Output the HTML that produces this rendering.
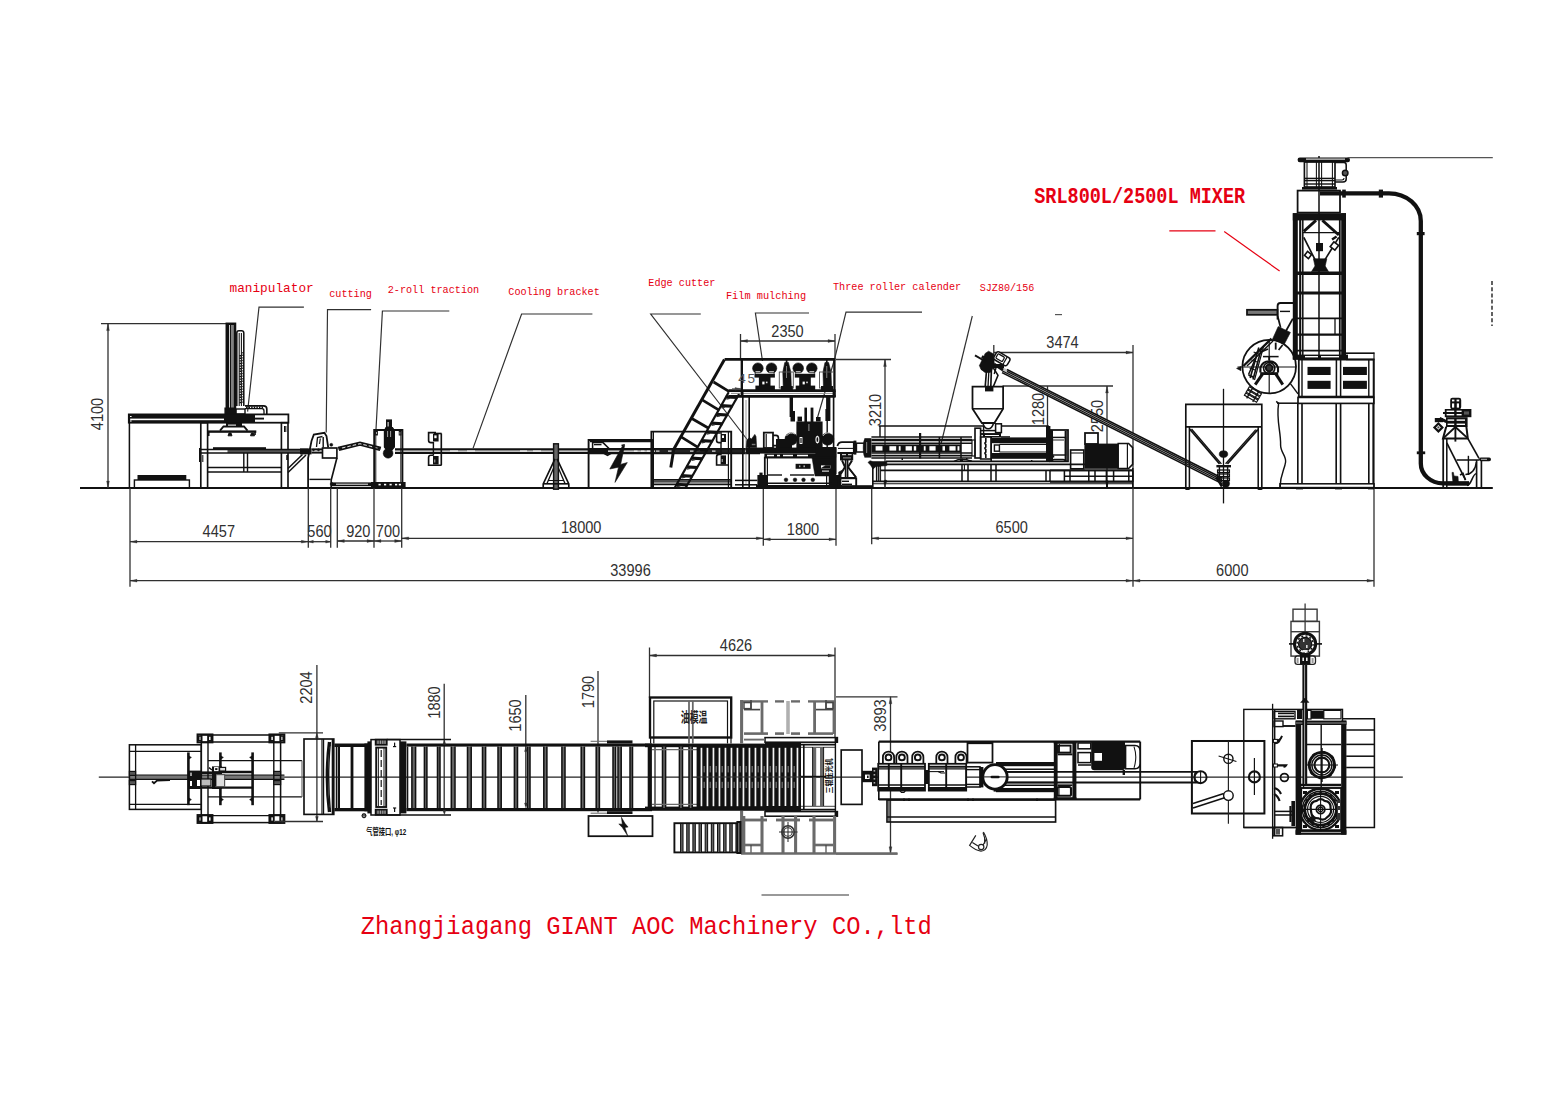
<!DOCTYPE html>
<html><head><meta charset="utf-8"><title>Production line layout</title>
<style>
html,body{margin:0;padding:0;background:#fff;}
body{width:1559px;height:1103px;overflow:hidden;}
svg{display:block;}
text.d{font-family:"Liberation Sans",sans-serif;}
text.m{font-family:"Liberation Mono","Noto Sans CJK SC",monospace;}
text.s{font-family:"Liberation Serif","Noto Serif CJK SC",serif;}
text.c{font-family:"Liberation Sans","Noto Sans CJK SC",sans-serif;}
</style></head><body>
<svg width="1559" height="1103" viewBox="0 0 1559 1103" stroke-linecap="butt" stroke-linejoin="miter">
<rect x="0" y="0" width="1559" height="1103" fill="#fff"/>
<text class="m" x="0" y="0" font-size="12.75" fill="#e60012" font-weight="normal" transform="translate(229.5 291.6) scale(1 1)" textLength="84.2" lengthAdjust="spacing">manipulator</text>
<text class="m" x="0" y="0" font-size="10.17" fill="#e60012" font-weight="normal" transform="translate(329.2 297.3) scale(1 1)" textLength="42.7" lengthAdjust="spacing">cutting</text>
<text class="m" x="0" y="0" font-size="10.17" fill="#e60012" font-weight="normal" transform="translate(387.7 292.5) scale(1 1)" textLength="91.5" lengthAdjust="spacing">2-roll traction</text>
<text class="m" x="0" y="0" font-size="10.17" fill="#e60012" font-weight="normal" transform="translate(508.3 295.4) scale(1 1)" textLength="91.5" lengthAdjust="spacing">Cooling bracket</text>
<text class="m" x="0" y="0" font-size="10.17" fill="#e60012" font-weight="normal" transform="translate(648.3 286) scale(1 1)" textLength="67.1" lengthAdjust="spacing">Edge cutter</text>
<text class="m" x="0" y="0" font-size="10.28" fill="#e60012" font-weight="normal" transform="translate(725.9 299) scale(1 1)" textLength="80.2" lengthAdjust="spacing">Film mulching</text>
<text class="m" x="0" y="0" font-size="10.17" fill="#e60012" font-weight="normal" transform="translate(833 290) scale(1 1)" textLength="128.1" lengthAdjust="spacing">Three roller calender</text>
<text class="m" x="0" y="0" font-size="10.12" fill="#e60012" font-weight="normal" transform="translate(979.7 291.3) scale(1 1)" textLength="54.6" lengthAdjust="spacing">SJZ80/156</text>
<text class="m" x="0" y="0" font-size="18.50" fill="#e60012" font-weight="bold" transform="translate(1034.25 202.7) scale(1 1.2)" textLength="210.9" lengthAdjust="spacing">SRL800L/2500L MIXER</text>
<text class="m" x="0" y="0" font-size="23.80" fill="#e60012" font-weight="normal" transform="translate(360.7 933.7) scale(1 1.06)" textLength="571.2" lengthAdjust="spacing">Zhangjiagang GIANT AOC Machinery CO.,ltd</text>
<line x1="761.5" y1="895" x2="849" y2="895" stroke="#777" stroke-width="1.65" />
<line x1="80" y1="488" x2="1492.8" y2="488" stroke="#111" stroke-width="1.89" />
<line x1="130" y1="488" x2="130" y2="586.7" stroke="#303030" stroke-width="1.3" />
<line x1="308.3" y1="488" x2="308.3" y2="547.7" stroke="#303030" stroke-width="1.3" />
<line x1="330.7" y1="488" x2="330.7" y2="547.7" stroke="#303030" stroke-width="1.3" />
<line x1="337.3" y1="488" x2="337.3" y2="547.7" stroke="#303030" stroke-width="1.3" />
<line x1="374" y1="488" x2="374" y2="547.7" stroke="#303030" stroke-width="1.3" />
<line x1="401.7" y1="488" x2="401.7" y2="547.7" stroke="#303030" stroke-width="1.3" />
<line x1="763.3" y1="488" x2="763.3" y2="545.7" stroke="#303030" stroke-width="1.3" />
<line x1="836" y1="488" x2="836" y2="545.7" stroke="#303030" stroke-width="1.3" />
<line x1="871.7" y1="488" x2="871.7" y2="544.3" stroke="#303030" stroke-width="1.3" />
<line x1="1133" y1="345" x2="1133" y2="586.7" stroke="#303030" stroke-width="1.3" />
<line x1="1374" y1="352.5" x2="1374" y2="586.7" stroke="#303030" stroke-width="1.3" />
<line x1="130" y1="541.7" x2="308.3" y2="541.7" stroke="#303030" stroke-width="1.3" />
<path d="M130 541.7 L137 540.3 L137 543.1 Z" fill="#303030" stroke="#303030" stroke-width="0.3" />
<path d="M308.3 541.7 L301.3 540.3 L301.3 543.1 Z" fill="#303030" stroke="#303030" stroke-width="0.3" />
<line x1="308.3" y1="541.7" x2="330.7" y2="541.7" stroke="#303030" stroke-width="1.3" />
<path d="M330.7 541.7 L325.7 540.3 L325.7 543.1 Z" fill="#303030" stroke="#303030" stroke-width="0.3" />
<path d="M308.3 541.7 L313.3 540.3 L313.3 543.1 Z" fill="#303030" stroke="#303030" stroke-width="0.3" />
<line x1="337.3" y1="541" x2="374" y2="541" stroke="#303030" stroke-width="1.3" />
<path d="M337.3 541 L344.3 539.6 L344.3 542.4 Z" fill="#303030" stroke="#303030" stroke-width="0.3" />
<path d="M374 541 L367 539.6 L367 542.4 Z" fill="#303030" stroke="#303030" stroke-width="0.3" />
<line x1="374" y1="541" x2="401.7" y2="541" stroke="#303030" stroke-width="1.3" />
<path d="M374 541 L381 539.6 L381 542.4 Z" fill="#303030" stroke="#303030" stroke-width="0.3" />
<path d="M401.7 541 L394.7 539.6 L394.7 542.4 Z" fill="#303030" stroke="#303030" stroke-width="0.3" />
<line x1="401.7" y1="538.3" x2="763.3" y2="538.3" stroke="#303030" stroke-width="1.3" />
<path d="M401.7 538.3 L408.7 536.9 L408.7 539.7 Z" fill="#303030" stroke="#303030" stroke-width="0.3" />
<path d="M763.3 538.3 L756.3 536.9 L756.3 539.7 Z" fill="#303030" stroke="#303030" stroke-width="0.3" />
<line x1="763.3" y1="539.3" x2="836" y2="539.3" stroke="#303030" stroke-width="1.3" />
<path d="M763.3 539.3 L770.3 537.9 L770.3 540.7 Z" fill="#303030" stroke="#303030" stroke-width="0.3" />
<path d="M836 539.3 L829 537.9 L829 540.7 Z" fill="#303030" stroke="#303030" stroke-width="0.3" />
<line x1="871.7" y1="538.3" x2="1133" y2="538.3" stroke="#303030" stroke-width="1.3" />
<path d="M871.7 538.3 L878.7 536.9 L878.7 539.7 Z" fill="#303030" stroke="#303030" stroke-width="0.3" />
<path d="M1133 538.3 L1126 536.9 L1126 539.7 Z" fill="#303030" stroke="#303030" stroke-width="0.3" />
<line x1="130" y1="580.7" x2="1133" y2="580.7" stroke="#303030" stroke-width="1.3" />
<path d="M130 580.7 L137 579.3 L137 582.1 Z" fill="#303030" stroke="#303030" stroke-width="0.3" />
<path d="M1133 580.7 L1126 579.3 L1126 582.1 Z" fill="#303030" stroke="#303030" stroke-width="0.3" />
<line x1="1133" y1="580.7" x2="1374" y2="580.7" stroke="#303030" stroke-width="1.3" />
<path d="M1133 580.7 L1140 579.3 L1140 582.1 Z" fill="#303030" stroke="#303030" stroke-width="0.3" />
<path d="M1374 580.7 L1367 579.3 L1367 582.1 Z" fill="#303030" stroke="#303030" stroke-width="0.3" />
<text class="d" x="202.6" y="536.8" font-size="17" fill="#303030" textLength="32.4" lengthAdjust="spacingAndGlyphs">4457</text>
<text class="d" x="307.35" y="536.8" font-size="17" fill="#303030" textLength="24.3" lengthAdjust="spacingAndGlyphs">560</text>
<text class="d" x="346.15" y="536.8" font-size="17" fill="#303030" textLength="24.3" lengthAdjust="spacingAndGlyphs">920</text>
<text class="d" x="375.85" y="536.8" font-size="17" fill="#303030" textLength="24.3" lengthAdjust="spacingAndGlyphs">700</text>
<text class="d" x="560.95" y="533.3" font-size="17" fill="#303030" textLength="40.5" lengthAdjust="spacingAndGlyphs">18000</text>
<text class="d" x="786.8" y="535" font-size="17" fill="#303030" textLength="32.4" lengthAdjust="spacingAndGlyphs">1800</text>
<text class="d" x="995.5" y="533.3" font-size="17" fill="#303030" textLength="32.4" lengthAdjust="spacingAndGlyphs">6500</text>
<text class="d" x="610.25" y="575.7" font-size="17" fill="#303030" textLength="40.5" lengthAdjust="spacingAndGlyphs">33996</text>
<text class="d" x="1216.1" y="576" font-size="17" fill="#303030" textLength="32.4" lengthAdjust="spacingAndGlyphs">6000</text>
<line x1="101" y1="323.6" x2="226.5" y2="323.6" stroke="#303030" stroke-width="1.3" />
<line x1="108" y1="323.6" x2="108" y2="488" stroke="#303030" stroke-width="1.3" />
<path d="M108 323.6 L106.6 330.6 L109.4 330.6 Z" fill="#303030" stroke="#303030" stroke-width="0.3" />
<path d="M108 488 L106.6 481 L109.4 481 Z" fill="#303030" stroke="#303030" stroke-width="0.3" />
<text class="d" x="-16.2" y="0" font-size="17" fill="#303030" textLength="32.4" lengthAdjust="spacingAndGlyphs" transform="translate(103 414) rotate(-90)">4100</text>
<line x1="740.5" y1="334" x2="740.5" y2="359.5" stroke="#303030" stroke-width="1.3" />
<line x1="835" y1="334" x2="835" y2="359.5" stroke="#303030" stroke-width="1.3" />
<line x1="740.5" y1="341" x2="835" y2="341" stroke="#303030" stroke-width="1.3" />
<path d="M740.5 341 L747.5 339.6 L747.5 342.4 Z" fill="#303030" stroke="#303030" stroke-width="0.3" />
<path d="M835 341 L828 339.6 L828 342.4 Z" fill="#303030" stroke="#303030" stroke-width="0.3" />
<text class="d" x="771.3" y="336.5" font-size="17" fill="#303030" textLength="32.4" lengthAdjust="spacingAndGlyphs">2350</text>
<line x1="836" y1="359.5" x2="891" y2="359.5" stroke="#303030" stroke-width="1.3" />
<line x1="885" y1="359.5" x2="885" y2="488" stroke="#303030" stroke-width="1.3" />
<path d="M885 359.5 L883.6 366.5 L886.4 366.5 Z" fill="#303030" stroke="#303030" stroke-width="0.3" />
<path d="M885 488 L883.6 481 L886.4 481 Z" fill="#303030" stroke="#303030" stroke-width="0.3" />
<text class="d" x="-16.2" y="0" font-size="17" fill="#303030" textLength="32.4" lengthAdjust="spacingAndGlyphs" transform="translate(880.5 410) rotate(-90)">3210</text>
<line x1="993.8" y1="345" x2="993.8" y2="356" stroke="#303030" stroke-width="1.3" />
<line x1="993.8" y1="352.5" x2="1133" y2="352.5" stroke="#303030" stroke-width="1.3" />
<path d="M1133 352.5 L1126 351.1 L1126 353.9 Z" fill="#303030" stroke="#303030" stroke-width="0.3" />
<text class="d" x="1046.3" y="347.5" font-size="17" fill="#303030" textLength="32.4" lengthAdjust="spacingAndGlyphs">3474</text>
<line x1="1002.5" y1="386" x2="1113" y2="386" stroke="#303030" stroke-width="1.3" />
<line x1="1047.5" y1="386" x2="1047.5" y2="427.5" stroke="#303030" stroke-width="1.3" />
<text class="d" x="-16.2" y="0" font-size="17" fill="#303030" textLength="32.4" lengthAdjust="spacingAndGlyphs" transform="translate(1044 409) rotate(-90)">1280</text>
<line x1="1107" y1="386" x2="1107" y2="488" stroke="#303030" stroke-width="1.3" />
<path d="M1107 386 L1105.6 393 L1108.4 393 Z" fill="#303030" stroke="#303030" stroke-width="0.3" />
<path d="M1107 488 L1105.6 481 L1108.4 481 Z" fill="#303030" stroke="#303030" stroke-width="0.3" />
<text class="d" x="-16.2" y="0" font-size="17" fill="#303030" textLength="32.4" lengthAdjust="spacingAndGlyphs" transform="translate(1103 416) rotate(-90)">2550</text>
<line x1="316.9" y1="665" x2="316.9" y2="821.5" stroke="#303030" stroke-width="1.3" />
<path d="M316.9 732.8 L315.5 737.8 L318.3 737.8 Z" fill="#303030" stroke="#303030" stroke-width="0.3" />
<path d="M316.9 821.5 L315.5 816.5 L318.3 816.5 Z" fill="#303030" stroke="#303030" stroke-width="0.3" />
<text class="d" x="-16.2" y="0" font-size="17" fill="#303030" textLength="32.4" lengthAdjust="spacingAndGlyphs" transform="translate(312 687.5) rotate(-90)">2204</text>
<line x1="444.2" y1="683.8" x2="444.2" y2="812.5" stroke="#303030" stroke-width="1.3" />
<text class="d" x="-16.2" y="0" font-size="17" fill="#303030" textLength="32.4" lengthAdjust="spacingAndGlyphs" transform="translate(439.5 702.5) rotate(-90)">1880</text>
<line x1="525.8" y1="695" x2="525.8" y2="806" stroke="#303030" stroke-width="1.3" />
<text class="d" x="-16.2" y="0" font-size="17" fill="#303030" textLength="32.4" lengthAdjust="spacingAndGlyphs" transform="translate(521 715.5) rotate(-90)">1650</text>
<line x1="598" y1="671" x2="598" y2="812.5" stroke="#303030" stroke-width="1.3" />
<text class="d" x="-16.2" y="0" font-size="17" fill="#303030" textLength="32.4" lengthAdjust="spacingAndGlyphs" transform="translate(593.5 692) rotate(-90)">1790</text>
<line x1="649.5" y1="647.5" x2="649.5" y2="698" stroke="#303030" stroke-width="1.3" />
<line x1="835" y1="647.5" x2="835" y2="742" stroke="#303030" stroke-width="1.3" />
<line x1="649.5" y1="655.5" x2="835" y2="655.5" stroke="#303030" stroke-width="1.3" />
<path d="M649.5 655.5 L656.5 654.1 L656.5 656.9 Z" fill="#303030" stroke="#303030" stroke-width="0.3" />
<path d="M835 655.5 L828 654.1 L828 656.9 Z" fill="#303030" stroke="#303030" stroke-width="0.3" />
<text class="d" x="719.8" y="651" font-size="17" fill="#303030" textLength="32.4" lengthAdjust="spacingAndGlyphs">4626</text>
<line x1="836" y1="696.8" x2="897.5" y2="696.8" stroke="#303030" stroke-width="1.3" />
<line x1="836" y1="853.8" x2="897.5" y2="853.8" stroke="#303030" stroke-width="1.3" />
<line x1="890.5" y1="696.8" x2="890.5" y2="853.8" stroke="#303030" stroke-width="1.3" />
<path d="M890.5 696.8 L889.1 703.8 L891.9 703.8 Z" fill="#303030" stroke="#303030" stroke-width="0.3" />
<path d="M890.5 853.8 L889.1 846.8 L891.9 846.8 Z" fill="#303030" stroke="#303030" stroke-width="0.3" />
<text class="d" x="-16.2" y="0" font-size="17" fill="#303030" textLength="32.4" lengthAdjust="spacingAndGlyphs" transform="translate(886 715.5) rotate(-90)">3893</text>
<path d="M303.9 307.2 L259 307.2 L247.6 411.6" fill="none" stroke="#303030" stroke-width="1.18" />
<path d="M371.1 309.6 L327.5 309.6 L326.2 432.5" fill="none" stroke="#303030" stroke-width="1.18" />
<path d="M449.3 311 L382.4 311 L376 429.4" fill="none" stroke="#303030" stroke-width="1.18" />
<path d="M592.4 314 L521.6 314 L473.1 448.1" fill="none" stroke="#303030" stroke-width="1.18" />
<path d="M700.8 314 L650.7 314 L747.5 440" fill="none" stroke="#303030" stroke-width="1.18" />
<path d="M809 313 L755.4 313 L762.5 361" fill="none" stroke="#303030" stroke-width="1.18" />
<path d="M922 312.2 L846 312.2 L835 357.5 L817.5 417.5" fill="none" stroke="#303030" stroke-width="1.18" />
<path d="M972.3 316 L941 444" fill="none" stroke="#303030" stroke-width="1.18" />
<line x1="1055" y1="314.6" x2="1062" y2="314.6" stroke="#555" stroke-width="1.18" />
<line x1="1169.3" y1="230.8" x2="1215.5" y2="230.8" stroke="#e60012" stroke-width="1.18" />
<line x1="1224.2" y1="231.6" x2="1279.6" y2="271" stroke="#e60012" stroke-width="1.18" />
<line x1="129.4" y1="414" x2="129.4" y2="488" stroke="#111" stroke-width="1.53" />
<rect x="226.6" y="323.6" width="8.6" height="90.4" fill="none" stroke="#111" stroke-width="2.12"/>
<rect x="226" y="323.2" width="3" height="90.8" fill="#111" stroke="none"/>
<rect x="233.4" y="323.2" width="2.4" height="90.8" fill="#111" stroke="none"/>
<rect x="226" y="323" width="9.8" height="2" fill="#111" stroke="none"/>
<line x1="230.4" y1="325" x2="230.4" y2="414" stroke="#111" stroke-width="1.18" />
<line x1="232" y1="325" x2="232" y2="414" stroke="#111" stroke-width="1.06" />
<path d="M236.8 406 V333 Q236.8 330.8 239 330.8 H241.5 Q243.8 330.8 243.8 333 V406" fill="none" stroke="#111" stroke-width="1.53" />
<line x1="239.2" y1="333" x2="239.2" y2="406" stroke="#111" stroke-width="1.06" />
<line x1="241.4" y1="333" x2="241.4" y2="406" stroke="#111" stroke-width="1.06" />
<line x1="240.3" y1="355" x2="240.3" y2="404" stroke="#111" stroke-width="1.89" stroke-dasharray="1.4 1.2"/>
<line x1="243" y1="352" x2="243" y2="404" stroke="#111" stroke-width="1.42" stroke-dasharray="1.4 1.2"/>
<path d="M245 405.8 H263.5 Q266.8 405.8 266.8 409 V414" fill="none" stroke="#111" stroke-width="1.65" />
<path d="M245 408.6 H262 Q264 408.6 264 411 V414" fill="none" stroke="#111" stroke-width="1.3" />
<line x1="246" y1="407.2" x2="263" y2="407.2" stroke="#111" stroke-width="1.65" stroke-dasharray="1.4 1.2"/>
<rect x="224.4" y="407.5" width="11.6" height="7" fill="#111" stroke="none"/>
<rect x="236" y="409" width="9" height="5" fill="none" stroke="#111" stroke-width="1.42"/>
<rect x="128.8" y="414.4" width="159.6" height="8.3" fill="none" stroke="#111" stroke-width="1.77"/>
<rect x="128.8" y="414.4" width="125" height="4.2" fill="#111" stroke="none"/>
<rect x="128.8" y="420.2" width="125" height="2.7" fill="#111" stroke="none"/>
<rect x="224" y="414.4" width="31" height="8.5" fill="#111" stroke="none"/>
<rect x="130" y="416" width="1.6" height="1" fill="#fff" stroke="none"/>
<rect x="130" y="420.5" width="1.6" height="1" fill="#fff" stroke="none"/>
<line x1="255" y1="418.6" x2="264" y2="418.6" stroke="#111" stroke-width="1.89" />
<rect x="200.8" y="422.7" width="6.8" height="65.3" fill="none" stroke="#111" stroke-width="1.65"/>
<rect x="281.4" y="422.7" width="6.6" height="65.3" fill="none" stroke="#111" stroke-width="1.65"/>
<line x1="284.5" y1="426" x2="284.5" y2="432" stroke="#111" stroke-width="1.06" />
<line x1="285.8" y1="426" x2="285.8" y2="432" stroke="#111" stroke-width="1.06" />
<path d="M220 430.6 L223.5 426.5 L244 426.5 L247.5 430.6" fill="none" stroke="#111" stroke-width="1.89" />
<rect x="226" y="422.9" width="16" height="3.6" fill="#111" stroke="none"/>
<rect x="207.5" y="430.4" width="48.8" height="2.4" fill="#111" stroke="none"/>
<rect x="228" y="424.6" width="8" height="1" fill="#fff" stroke="none"/>
<rect x="226" y="428.3" width="12" height="0.9" fill="#fff" stroke="none"/>
<path d="M228 435.8 L232 435.8 L231 433 L229 433 Z" fill="#111" stroke="#111" stroke-width="0.944" />
<path d="M250.5 435.8 L254.5 435.8 L253.5 433 L251.5 433 Z" fill="#111" stroke="#111" stroke-width="0.944" />
<line x1="208.6" y1="432" x2="208.6" y2="436" stroke="#111" stroke-width="1.89" />
<line x1="255" y1="432" x2="255" y2="435" stroke="#111" stroke-width="1.65" />
<rect x="213" y="447.2" width="53" height="2.4" fill="#111" stroke="none"/>
<rect x="227.5" y="449.6" width="72.5" height="3.4" fill="#555" stroke="none"/>
<line x1="199.5" y1="449.4" x2="308" y2="449.4" stroke="#111" stroke-width="1.53" />
<line x1="199.5" y1="453" x2="308" y2="453" stroke="#111" stroke-width="1.53" />
<rect x="300" y="448.4" width="11.5" height="6" fill="#111" stroke="none"/>
<rect x="199" y="448" width="2" height="14" fill="#111" stroke="none"/>
<line x1="202.8" y1="455" x2="202.8" y2="462" stroke="#111" stroke-width="1.06" />
<line x1="207.6" y1="467.6" x2="281.4" y2="467.6" stroke="#111" stroke-width="1.53" />
<line x1="207.6" y1="472" x2="281.4" y2="472" stroke="#111" stroke-width="1.53" />
<line x1="243.8" y1="453" x2="243.8" y2="472" stroke="#111" stroke-width="1.42" />
<line x1="247.5" y1="453" x2="247.5" y2="472" stroke="#111" stroke-width="1.42" />
<line x1="288" y1="468.5" x2="302.5" y2="454.5" stroke="#111" stroke-width="1.53" />
<line x1="288" y1="472.5" x2="306" y2="455" stroke="#111" stroke-width="1.53" />
<line x1="287.2" y1="455" x2="287.2" y2="460" stroke="#111" stroke-width="1.89" />
<rect x="137.5" y="475" width="48.8" height="5" fill="#111" stroke="none"/>
<rect x="134.4" y="480" width="55" height="8" fill="none" stroke="#111" stroke-width="1.42"/>
<path d="M308.1 488 L308.1 458 L311.5 441 L313.8 434.6 L324.4 432.8 L326.5 436 L328.2 447.5" fill="none" stroke="#111" stroke-width="1.77" />
<path d="M316.5 447 L317.5 437.5 L322.5 436.5" fill="none" stroke="#111" stroke-width="1.3" />
<path d="M319.5 444 L320.3 438.5" fill="none" stroke="#111" stroke-width="1.18" />
<line x1="323.2" y1="437" x2="323.2" y2="447.5" stroke="#111" stroke-width="1.42" />
<rect x="322.5" y="448" width="14.4" height="10" fill="none" stroke="#111" stroke-width="1.65"/>
<path d="M336.9 458 L331.2 480 L331.2 488" fill="none" stroke="#111" stroke-width="1.65" />
<line x1="309.4" y1="479.4" x2="330.6" y2="479.4" stroke="#111" stroke-width="1.42" />
<circle cx="331.3" cy="444.8" r="1.5" fill="#111" stroke="#111" stroke-width="0.5"/>
<circle cx="318.5" cy="449.8" r="1.1" fill="#111" stroke="#111" stroke-width="0.5"/>
<circle cx="313.5" cy="450" r="0.9" fill="#111" stroke="#111" stroke-width="0.5"/>
<path d="M338 447.6 L360 442.4 L381 447.6" fill="none" stroke="#111" stroke-width="1.65" />
<path d="M339 450.2 L360 445 L380 450.2" fill="none" stroke="#111" stroke-width="1.65" />
<path d="M338.5 449 L360 443.7 L380.5 449" fill="none" stroke="#111" stroke-width="1.89" />
<path d="M342 448 L360 443.7 L378 448.2" fill="none" stroke="#fff" stroke-width="0.9" stroke-dasharray="3.5 2"/>
<rect x="331" y="482.4" width="42" height="3.8" fill="#111" stroke="none"/>
<line x1="336" y1="484.2" x2="368" y2="484.2" stroke="#fff" stroke-width="0.944" />
<circle cx="331.8" cy="484" r="1.6" fill="#111" stroke="#111" stroke-width="0.5"/>
<path d="M374.2 488 L374.2 430 L402.4 430 L402.4 488" fill="none" stroke="#111" stroke-width="1.89" />
<line x1="375.8" y1="431" x2="375.8" y2="482" stroke="#111" stroke-width="0.944" />
<line x1="400.8" y1="431" x2="400.8" y2="482" stroke="#111" stroke-width="0.944" />
<rect x="375.6" y="431.5" width="1.8" height="3.5" fill="none" stroke="#111" stroke-width="0.944"/>
<rect x="399.2" y="431.5" width="1.8" height="3.5" fill="none" stroke="#111" stroke-width="0.944"/>
<rect x="386" y="419.4" width="6" height="8.6" fill="#111" stroke="none"/>
<rect x="387.6" y="422" width="1" height="4.5" fill="#fff" stroke="none"/>
<path d="M384.4 430.5 L386 427.5 L392.4 427.5 L394.4 430.5 L394.4 447 L392 450 L386.5 450 L384.4 447 Z" fill="#111" stroke="#111" stroke-width="1.18" />
<line x1="387.6" y1="431" x2="387.6" y2="437" stroke="#aaa" stroke-width="0.944" />
<line x1="390.6" y1="431" x2="390.6" y2="437" stroke="#aaa" stroke-width="0.944" />
<circle cx="388.1" cy="453.3" r="4.9" fill="#111" stroke="#111" stroke-width="0.5"/>
<rect x="371" y="482" width="34.6" height="5.6" fill="#111" stroke="none"/>
<rect x="378.5" y="483.8" width="2.2" height="1.6" fill="#fff" stroke="none"/>
<rect x="384" y="483.8" width="2.2" height="1.6" fill="#fff" stroke="none"/>
<rect x="389.5" y="483.8" width="2.2" height="1.6" fill="#fff" stroke="none"/>
<rect x="395" y="483.8" width="2.2" height="1.6" fill="#fff" stroke="none"/>
<rect x="398.8" y="483.8" width="2.2" height="1.6" fill="#fff" stroke="none"/>
<line x1="395" y1="449.3" x2="590" y2="449.3" stroke="#111" stroke-width="2.24" />
<line x1="395" y1="452.9" x2="590" y2="452.9" stroke="#111" stroke-width="2.24" />
<line x1="311.5" y1="449.4" x2="323" y2="449.4" stroke="#111" stroke-width="2.01" />
<line x1="311.5" y1="452.6" x2="323" y2="452.6" stroke="#111" stroke-width="2.01" />
<line x1="450" y1="451" x2="458" y2="451" stroke="#fff" stroke-width="1.06" />
<line x1="467" y1="451" x2="475" y2="451" stroke="#fff" stroke-width="1.06" />
<line x1="520" y1="451" x2="527" y2="451" stroke="#fff" stroke-width="1.06" />
<line x1="533" y1="451" x2="541" y2="451" stroke="#fff" stroke-width="1.06" />
<path d="M441.3 433.5 L441.3 465.2" fill="none" stroke="#111" stroke-width="1.65" />
<path d="M436 432.6 H428.6 V440.5 Q428.6 442.6 431 442.6 H433.5" fill="none" stroke="#111" stroke-width="1.65" />
<line x1="434" y1="433.5" x2="441.6" y2="433.5" stroke="#111" stroke-width="1.65" />
<rect x="433" y="433.8" width="5.6" height="7.7" fill="#111" stroke="none"/>
<rect x="434.3" y="435.4" width="2.3" height="2.8" fill="#fff" stroke="none"/>
<path d="M433.5 455.2 H431 Q428.6 455.2 428.6 457.5 V465.2 H441.6" fill="none" stroke="#111" stroke-width="1.65" />
<rect x="433" y="456" width="5.6" height="8.5" fill="#111" stroke="none"/>
<rect x="434" y="459.5" width="1.4" height="3" fill="#888" stroke="none"/>
<line x1="433.4" y1="442" x2="433.4" y2="455.5" stroke="#111" stroke-width="1.42" />
<line x1="588" y1="449.3" x2="760" y2="449.3" stroke="#111" stroke-width="2.48" />
<line x1="588" y1="453" x2="760" y2="453" stroke="#111" stroke-width="2.48" />
<rect x="588" y="449.4" width="20" height="3.4" fill="#111" stroke="none"/>
<rect x="655" y="449.6" width="90" height="3" fill="#222" stroke="none"/>
<line x1="634" y1="451.1" x2="637.5" y2="451.1" stroke="#fff" stroke-width="1.06" />
<line x1="641" y1="451.1" x2="644.5" y2="451.1" stroke="#fff" stroke-width="1.06" />
<line x1="647" y1="451.1" x2="650.5" y2="451.1" stroke="#fff" stroke-width="1.06" />
<line x1="656" y1="451.1" x2="659.5" y2="451.1" stroke="#fff" stroke-width="1.06" />
<line x1="668" y1="451.1" x2="671.5" y2="451.1" stroke="#fff" stroke-width="1.06" />
<line x1="690" y1="451.1" x2="693.5" y2="451.1" stroke="#fff" stroke-width="1.06" />
<line x1="712" y1="451.1" x2="715.5" y2="451.1" stroke="#fff" stroke-width="1.06" />
<rect x="553.6" y="443.8" width="4.8" height="45.4" fill="#666" stroke="#111" stroke-width="1.42"/>
<path d="M555 458.8 L543.2 484 L543.2 487.6" fill="none" stroke="#111" stroke-width="1.65" />
<path d="M557 458.8 L568.8 484 L568.8 487.6" fill="none" stroke="#111" stroke-width="1.65" />
<line x1="553.6" y1="468" x2="547" y2="483.5" stroke="#111" stroke-width="1.3" />
<line x1="558.4" y1="468" x2="565" y2="483.5" stroke="#111" stroke-width="1.3" />
<line x1="543.2" y1="483.8" x2="568.8" y2="483.8" stroke="#111" stroke-width="1.65" />
<line x1="548" y1="480.5" x2="564" y2="480.5" stroke="#111" stroke-width="1.06" />
<path d="M588.6 488 L588.6 440 L652 440 L652 488" fill="none" stroke="#111" stroke-width="1.89" />
<line x1="590" y1="441.6" x2="651" y2="441.6" stroke="#111" stroke-width="1.06" />
<path d="M592.6 448 L592.6 442.6 L603 442.6 L609.5 449" fill="none" stroke="#111" stroke-width="1.53" />
<path d="M594 444.6 L601.5 444.6" fill="none" stroke="#111" stroke-width="1.42" />
<path d="M603 452.8 L607.5 455.2 L612 452.8" fill="none" stroke="#111" stroke-width="1.65" />
<path d="M622.5 446 L609.8 469 L618.5 467.2 L615 482.4 L627.3 462.6 L620.6 464.4 L624.6 445.6 Z" fill="#111" stroke="#111" stroke-width="0.6" />
<line x1="621.5" y1="445.5" x2="624.8" y2="444.8" stroke="#111" stroke-width="1.42" />
<path d="M651.4 488 L651.4 431.6 L731.2 431.6 L731.2 488" fill="none" stroke="#111" stroke-width="1.89" />
<line x1="653.4" y1="432" x2="653.4" y2="488" stroke="#111" stroke-width="1.18" />
<line x1="728.4" y1="432" x2="728.4" y2="488" stroke="#111" stroke-width="1.18" />
<line x1="653" y1="479.8" x2="731" y2="479.8" stroke="#111" stroke-width="1.77" />
<line x1="653" y1="481.8" x2="731" y2="481.8" stroke="#111" stroke-width="1.18" />
<line x1="653" y1="484.4" x2="731" y2="484.4" stroke="#111" stroke-width="1.77" />
<path d="M673.9 448.6 L670.8 467.4" fill="none" stroke="#111" stroke-width="2.95" />
<path d="M722 433 H716.6 V440.5 Q716.6 442.6 719 442.6 H721.5" fill="none" stroke="#111" stroke-width="1.65" />
<rect x="720.6" y="434" width="5.4" height="8" fill="#111" stroke="none"/>
<rect x="722" y="435.4" width="2" height="2.6" fill="#fff" stroke="none"/>
<path d="M721.5 454.4 H719 Q716.6 454.4 716.6 456.8 V465 H728" fill="none" stroke="#111" stroke-width="1.65" />
<rect x="720.6" y="455.4" width="5.4" height="9" fill="#111" stroke="none"/>
<rect x="721.6" y="459" width="1.4" height="3" fill="#888" stroke="none"/>
<line x1="721" y1="442" x2="721" y2="454.6" stroke="#111" stroke-width="1.42" />
<line x1="728.7" y1="392.3" x2="674.63" y2="488" stroke="#111" stroke-width="2.24" />
<line x1="739.083" y1="394" x2="685.503" y2="488" stroke="#111" stroke-width="2.24" />
<line x1="725.801" y1="396.9" x2="737.388" y2="397.5" stroke="#111" stroke-width="3.07" />
<line x1="726.397" y1="399.1" x2="729.797" y2="398.4" stroke="#333" stroke-width="1.18" />
<line x1="720.857" y1="405.65" x2="732.4" y2="406.25" stroke="#111" stroke-width="3.07" />
<line x1="721.453" y1="407.85" x2="724.853" y2="407.15" stroke="#333" stroke-width="1.18" />
<line x1="715.914" y1="414.4" x2="727.413" y2="415" stroke="#111" stroke-width="3.07" />
<line x1="716.51" y1="416.6" x2="719.91" y2="415.9" stroke="#333" stroke-width="1.18" />
<line x1="710.97" y1="423.15" x2="722.425" y2="423.75" stroke="#111" stroke-width="3.07" />
<line x1="711.566" y1="425.35" x2="714.966" y2="424.65" stroke="#333" stroke-width="1.18" />
<line x1="706.026" y1="431.9" x2="717.438" y2="432.5" stroke="#111" stroke-width="3.07" />
<line x1="706.622" y1="434.1" x2="710.022" y2="433.4" stroke="#333" stroke-width="1.18" />
<line x1="701.082" y1="440.65" x2="712.45" y2="441.25" stroke="#111" stroke-width="3.07" />
<line x1="701.678" y1="442.85" x2="705.078" y2="442.15" stroke="#333" stroke-width="1.18" />
<line x1="696.139" y1="449.4" x2="707.463" y2="450" stroke="#111" stroke-width="3.07" />
<line x1="696.735" y1="451.6" x2="700.135" y2="450.9" stroke="#333" stroke-width="1.18" />
<line x1="691.195" y1="458.15" x2="702.475" y2="458.75" stroke="#111" stroke-width="3.07" />
<line x1="691.791" y1="460.35" x2="695.191" y2="459.65" stroke="#333" stroke-width="1.18" />
<line x1="686.251" y1="466.9" x2="697.488" y2="467.5" stroke="#111" stroke-width="3.07" />
<line x1="686.847" y1="469.1" x2="690.247" y2="468.4" stroke="#333" stroke-width="1.18" />
<line x1="681.307" y1="475.65" x2="692.5" y2="476.25" stroke="#111" stroke-width="3.07" />
<line x1="681.903" y1="477.85" x2="685.303" y2="477.15" stroke="#333" stroke-width="1.18" />
<line x1="676.364" y1="484.4" x2="687.513" y2="485" stroke="#111" stroke-width="3.07" />
<line x1="676.96" y1="486.6" x2="680.36" y2="485.9" stroke="#333" stroke-width="1.18" />
<line x1="724.431" y1="359.4" x2="673.899" y2="448.9" stroke="#111" stroke-width="2.95" />
<line x1="713.6" y1="382" x2="729.3" y2="391.6" stroke="#111" stroke-width="2.71" />
<line x1="702.6" y1="400.2" x2="719.4" y2="410.4" stroke="#111" stroke-width="2.71" />
<line x1="691.8" y1="418.5" x2="708.7" y2="428.2" stroke="#111" stroke-width="2.71" />
<line x1="681.5" y1="437.1" x2="698" y2="447.4" stroke="#111" stroke-width="2.71" />
<line x1="724.6" y1="359.4" x2="835.4" y2="359.4" stroke="#111" stroke-width="2.6" />
<line x1="741.8" y1="359.4" x2="741.8" y2="397" stroke="#111" stroke-width="2.36" />
<line x1="834.4" y1="359.4" x2="834.4" y2="397" stroke="#111" stroke-width="2.36" />
<line x1="728.6" y1="390.6" x2="835.6" y2="390.6" stroke="#111" stroke-width="2.6" />
<line x1="728.6" y1="396.4" x2="835.6" y2="396.4" stroke="#111" stroke-width="2.6" />
<line x1="731" y1="393.4" x2="835" y2="393.4" stroke="#888" stroke-width="0.944" />
<rect x="741" y="390.6" width="2.5" height="6.4" fill="#111" stroke="none"/>
<rect x="832.6" y="390.6" width="3" height="6.4" fill="#111" stroke="none"/>
<circle cx="757.9" cy="368.2" r="5.3" fill="#111" stroke="#111" stroke-width="0.6"/>
<rect x="755.5" y="371.2" width="4.8" height="1" fill="#ddd" stroke="none"/>
<circle cx="771.5" cy="368.2" r="5.3" fill="#111" stroke="#111" stroke-width="0.6"/>
<rect x="769.1" y="371.2" width="4.8" height="1" fill="#ddd" stroke="none"/>
<rect x="754.5" y="373.4" width="20.4" height="4.2" fill="#111" stroke="none"/>
<rect x="755.9" y="372.8" width="17.6" height="0.8" fill="#fff" stroke="none"/>
<rect x="758.9" y="377" width="11.6" height="10.4" fill="#111" stroke="none"/>
<rect x="762.3" y="381.6" width="2.2" height="2.8" fill="#fff" stroke="none"/>
<rect x="765.9" y="381.6" width="1.6" height="1.6" fill="#ddd" stroke="none"/>
<rect x="755.4" y="385.6" width="19.5" height="5.4" fill="#111" stroke="none"/>
<circle cx="798.2" cy="368.2" r="5.3" fill="#111" stroke="#111" stroke-width="0.6"/>
<rect x="795.8" y="371.2" width="4.8" height="1" fill="#ddd" stroke="none"/>
<circle cx="811.8" cy="368.2" r="5.3" fill="#111" stroke="#111" stroke-width="0.6"/>
<rect x="809.4" y="371.2" width="4.8" height="1" fill="#ddd" stroke="none"/>
<rect x="794.8" y="373.4" width="20.4" height="4.2" fill="#111" stroke="none"/>
<rect x="796.2" y="372.8" width="17.6" height="0.8" fill="#fff" stroke="none"/>
<rect x="799.2" y="377" width="11.6" height="10.4" fill="#111" stroke="none"/>
<rect x="802.6" y="381.6" width="2.2" height="2.8" fill="#fff" stroke="none"/>
<rect x="806.2" y="381.6" width="1.6" height="1.6" fill="#ddd" stroke="none"/>
<rect x="795.7" y="385.6" width="19.5" height="5.4" fill="#111" stroke="none"/>
<path d="M783.3 389 L782.8 372 L784.8 362.4 L788.4 362.4 L790.8 372 L791.4 389 Z" fill="#111" stroke="#111" stroke-width="0.6" />
<rect x="786.2" y="366" width="0.8" height="12" fill="#999" stroke="none"/>
<rect x="779.3" y="372" width="14" height="16" fill="none" stroke="#555" stroke-width="0.944"/>
<line x1="786.6" y1="359.4" x2="786.6" y2="363" stroke="#111" stroke-width="1.65" />
<rect x="780.8" y="386" width="12" height="5" fill="#111" stroke="none"/>
<path d="M823.5 389 L823 372 L825 362.4 L828.6 362.4 L831 372 L831.6 389 Z" fill="#111" stroke="#111" stroke-width="0.6" />
<rect x="826.4" y="366" width="0.8" height="12" fill="#999" stroke="none"/>
<rect x="819.5" y="372" width="14" height="16" fill="none" stroke="#555" stroke-width="0.944"/>
<line x1="826.8" y1="359.4" x2="826.8" y2="363" stroke="#111" stroke-width="1.65" />
<rect x="821" y="386" width="12" height="5" fill="#111" stroke="none"/>
<text class="d" x="738.2" y="383.2" font-size="13.5" fill="#555" letter-spacing="1.8">45</text>
<line x1="732" y1="388.8" x2="741" y2="388.8" stroke="#444" stroke-width="0.944" />
<path d="M741 388.8 L735 387.4 L735 390.2 Z" fill="#444" stroke="#444" stroke-width="0.3" />
<line x1="742.8" y1="397" x2="742.8" y2="488" stroke="#111" stroke-width="1.65" />
<line x1="749.2" y1="397" x2="749.2" y2="488" stroke="#111" stroke-width="1.65" />
<line x1="827.2" y1="397" x2="827.2" y2="447" stroke="#111" stroke-width="1.42" />
<line x1="833.6" y1="397" x2="833.6" y2="447" stroke="#111" stroke-width="1.65" />
<line x1="746" y1="400" x2="746" y2="485" stroke="#777" stroke-width="0.7" />
<rect x="789.6" y="397" width="3.4" height="20" fill="#111" stroke="none"/>
<rect x="790.5" y="411" width="4.5" height="10.5" fill="#111" stroke="none"/>
<rect x="826.2" y="397" width="4.2" height="24" fill="#111" stroke="none"/>
<rect x="825.4" y="409" width="3.6" height="12" fill="#111" stroke="none"/>
<rect x="796.4" y="421.5" width="26.2" height="26.5" fill="#111" stroke="none"/>
<rect x="804.4" y="407.6" width="2.6" height="15.4" fill="#111" stroke="none"/>
<rect x="810.6" y="407.6" width="2.8" height="15.4" fill="#111" stroke="none"/>
<rect x="797.5" y="416.6" width="4.5" height="4.9" fill="#111" stroke="none"/>
<rect x="816" y="417" width="4.6" height="4.5" fill="#111" stroke="none"/>
<rect x="808.4" y="424" width="1" height="7" fill="#999" stroke="none"/>
<circle cx="791.2" cy="439" r="6.2" fill="#111" stroke="#111" stroke-width="0.6"/>
<circle cx="827.6" cy="439" r="6.2" fill="#111" stroke="#111" stroke-width="0.6"/>
<path d="M786.5 436 A6 6 0 0 1 795 434" fill="none" stroke="#fff" stroke-width="0.7" />
<path d="M823 436 A6 6 0 0 1 832 434" fill="none" stroke="#fff" stroke-width="0.7" />
<rect x="799.6" y="437" width="2.8" height="7" fill="#fff" stroke="none"/>
<rect x="800.4" y="438" width="1.2" height="5" fill="#111" stroke="none"/>
<ellipse cx="817.4" cy="439.6" rx="1.7" ry="3.6" fill="#fff" stroke="#fff" stroke-width="0.5"/>
<ellipse cx="817.4" cy="439.6" rx="0.7" ry="2.4" fill="#111" stroke="#111" stroke-width="0.4"/>
<rect x="776" y="439" width="16" height="9" fill="#111" stroke="none"/>
<rect x="763.8" y="432.6" width="9.2" height="15.4" fill="none" stroke="#111" stroke-width="1.77"/>
<line x1="766.2" y1="434" x2="766.2" y2="447" stroke="#111" stroke-width="1.18" />
<path d="M773 435.4 H776 Q778.4 435.4 778.4 438 V443 Q778.4 445.6 776 445.6 H773" fill="none" stroke="#111" stroke-width="1.65" />
<path d="M746.2 447.6 L746.8 440.6 L749.4 437.6 L751.5 439 L754.8 434.4 L756 436.6 L756.6 447.6 Z" fill="#111" stroke="#111" stroke-width="0.6" />
<rect x="751.8" y="443.8" width="3.6" height="1.4" fill="#777" stroke="none"/>
<rect x="746" y="447.6" width="90.4" height="6" fill="#111" stroke="none"/>
<rect x="764.4" y="453.6" width="72" height="4" fill="#111" stroke="none"/>
<rect x="767" y="454.8" width="7" height="1.6" fill="#fff" stroke="none"/>
<rect x="777" y="454.8" width="3" height="1.6" fill="#fff" stroke="none"/>
<rect x="783" y="454.8" width="10" height="1.6" fill="#fff" stroke="none"/>
<rect x="797" y="454.8" width="11" height="1.6" fill="#fff" stroke="none"/>
<rect x="815.4" y="447" width="21" height="27" fill="#111" stroke="none"/>
<path d="M812 457.6 L836 457.6 L836 486 L829 486 L829 476 L815 476 Z" fill="#111" stroke="#111" stroke-width="0.5" />
<rect x="821" y="465.4" width="9.4" height="3" fill="#fff" stroke="none"/>
<path d="M821.5 468 L825.5 465.6 L830 465.6 L830 468 Z" fill="#111" stroke="#111" stroke-width="0.5" />
<rect x="822" y="470.6" width="7" height="1" fill="#fff" stroke="none"/>
<rect x="764.8" y="457.6" width="69.2" height="28.4" fill="none" stroke="#111" stroke-width="1.77"/>
<line x1="767.4" y1="458" x2="767.4" y2="486" stroke="#111" stroke-width="1.18" />
<rect x="795.6" y="463.8" width="15" height="5" fill="#111" stroke="none"/>
<rect x="799" y="465.4" width="1.4" height="1.8" fill="#aaa" stroke="none"/>
<rect x="803.4" y="465.4" width="1.6" height="1.8" fill="#aaa" stroke="none"/>
<line x1="767.6" y1="475" x2="782" y2="475" stroke="#111" stroke-width="1.42" />
<line x1="790" y1="475" x2="814" y2="475" stroke="#111" stroke-width="1.42" />
<circle cx="786" cy="479.8" r="1.9" fill="#111" stroke="#111" stroke-width="0.4"/>
<circle cx="795" cy="479.8" r="1.9" fill="#111" stroke="#111" stroke-width="0.4"/>
<circle cx="803.5" cy="479.8" r="1.9" fill="#111" stroke="#111" stroke-width="0.4"/>
<circle cx="812.8" cy="479.8" r="1.9" fill="#111" stroke="#111" stroke-width="0.4"/>
<line x1="765" y1="483.2" x2="834" y2="483.2" stroke="#111" stroke-width="1.42" />
<line x1="826.6" y1="476" x2="826.6" y2="486" stroke="#111" stroke-width="1.18" />
<rect x="757.4" y="475" width="10.2" height="12" fill="#111" stroke="none"/>
<rect x="759.4" y="472.6" width="3.2" height="3.4" fill="#111" stroke="none"/>
<rect x="832" y="475" width="9.4" height="12" fill="#111" stroke="none"/>
<line x1="735" y1="480.4" x2="757.4" y2="480.4" stroke="#111" stroke-width="1.53" />
<line x1="735" y1="484.8" x2="757.4" y2="484.8" stroke="#111" stroke-width="1.53" />
<rect x="756" y="485" width="86" height="4" fill="#111" stroke="none"/>
<rect x="842" y="485.2" width="31" height="3.8" fill="#111" stroke="none"/>
<path d="M837.4 446 Q838.5 442.2 842 442.2 H853.8 V453 H837.4" fill="none" stroke="#111" stroke-width="1.77" />
<line x1="838" y1="448.4" x2="853.8" y2="448.4" stroke="#111" stroke-width="1.06" />
<rect x="853.6" y="440.6" width="2.8" height="14" fill="#111" stroke="none"/>
<rect x="856.4" y="443.2" width="8" height="8.8" fill="none" stroke="#111" stroke-width="1.53"/>
<rect x="840" y="452" width="13.2" height="8.4" fill="#111" stroke="none"/>
<rect x="842" y="454" width="4" height="1.2" fill="#ccc" stroke="none"/>
<rect x="848" y="454" width="3.6" height="1.2" fill="#ccc" stroke="none"/>
<rect x="843" y="457.4" width="8" height="1" fill="#999" stroke="none"/>
<path d="M842 460.4 L845 467 L838.6 477.5" fill="none" stroke="#111" stroke-width="2.01" />
<path d="M852 460.4 L848 467 L856.2 477.5" fill="none" stroke="#111" stroke-width="2.01" />
<line x1="845.6" y1="460" x2="845.6" y2="478" stroke="#111" stroke-width="1.65" />
<line x1="847.6" y1="460" x2="847.6" y2="478" stroke="#111" stroke-width="1.65" />
<path d="M838.6 477.5 L838.6 472 L842.6 470 Z" fill="#111" stroke="#111" stroke-width="0.5" />
<line x1="848.6" y1="468" x2="855.4" y2="476.6" stroke="#111" stroke-width="1.18" />
<path d="M838.6 477.5 L838.6 486.6 L856.2 486.6 L856.2 477.5" fill="none" stroke="#111" stroke-width="1.89" />
<rect x="838.6" y="477" width="17.6" height="2.2" fill="#111" stroke="none"/>
<rect x="842" y="480.6" width="7" height="1.4" fill="#111" stroke="none"/>
<rect x="842" y="483.6" width="10" height="1.4" fill="#111" stroke="none"/>
<line x1="878.8" y1="426" x2="983" y2="426" stroke="#111" stroke-width="1.53" />
<line x1="1001" y1="426" x2="1048.8" y2="426" stroke="#111" stroke-width="1.53" />
<line x1="880" y1="426" x2="880" y2="437" stroke="#111" stroke-width="1.42" />
<rect x="864.4" y="438.2" width="7" height="19.4" fill="#111" stroke="none"/>
<ellipse cx="864.8" cy="448" rx="1.6" ry="8.5" fill="#111" stroke="#111" stroke-width="0.5"/>
<rect x="866" y="442" width="1.2" height="11" fill="#777" stroke="none"/>
<line x1="871.4" y1="437" x2="972" y2="437" stroke="#111" stroke-width="1.53" />
<line x1="871.4" y1="440" x2="972" y2="440" stroke="#111" stroke-width="2.36" />
<line x1="871.4" y1="443.2" x2="972" y2="443.2" stroke="#111" stroke-width="1.42" />
<line x1="871.4" y1="453" x2="972" y2="453" stroke="#111" stroke-width="1.42" />
<line x1="871.4" y1="455.6" x2="972" y2="455.6" stroke="#111" stroke-width="1.89" />
<line x1="871.4" y1="458" x2="972" y2="458" stroke="#111" stroke-width="1.65" />
<rect x="871.4" y="444.4" width="89.6" height="8" fill="#111" stroke="none"/>
<rect x="875.6" y="446.2" width="6.9" height="4.4" fill="#fff" stroke="none"/>
<rect x="889.4" y="446.2" width="6.8" height="4.4" fill="#fff" stroke="none"/>
<rect x="898.8" y="446.2" width="1.8" height="4.4" fill="#fff" stroke="none"/>
<rect x="905.6" y="446.2" width="6.3" height="4.4" fill="#fff" stroke="none"/>
<rect x="913.8" y="446.2" width="2.4" height="4.4" fill="#fff" stroke="none"/>
<rect x="923.8" y="446.2" width="1.8" height="4.4" fill="#fff" stroke="none"/>
<rect x="929.4" y="446.2" width="6.2" height="4.4" fill="#fff" stroke="none"/>
<rect x="942.5" y="446.2" width="2.5" height="4.4" fill="#fff" stroke="none"/>
<rect x="949.4" y="446.2" width="6.2" height="4.4" fill="#fff" stroke="none"/>
<rect x="957.5" y="446.2" width="1.9" height="4.4" fill="#fff" stroke="none"/>
<rect x="919" y="433" width="2.2" height="25.4" fill="#111" stroke="none"/>
<rect x="938.6" y="437" width="1.6" height="21.4" fill="#111" stroke="none"/>
<line x1="961" y1="437" x2="961" y2="458" stroke="#111" stroke-width="1.53" />
<rect x="975" y="428.2" width="5.6" height="29.8" fill="none" stroke="#111" stroke-width="1.65"/>
<rect x="972" y="440" width="3" height="16" fill="none" stroke="#111" stroke-width="1.18"/>
<rect x="901.5" y="458" width="1.5" height="2" fill="#111" stroke="none"/>
<rect x="966" y="458" width="1.5" height="2" fill="#111" stroke="none"/>
<path d="M972.5 386.6 L1003.1 386.6 L1003.1 408.8 L994.4 423 L981.9 423 L972.5 408.8 Z" fill="none" stroke="#111" stroke-width="1.77" />
<line x1="972.5" y1="408.8" x2="1003.1" y2="408.8" stroke="#111" stroke-width="1.53" />
<path d="M982.8 423 Q984.5 428.8 988.2 428.8 Q992 428.8 993.6 423" fill="none" stroke="#111" stroke-width="1.53" />
<rect x="995.6" y="423.8" width="5.8" height="8.8" fill="none" stroke="#111" stroke-width="1.53"/>
<line x1="981" y1="430.6" x2="995.6" y2="430.6" stroke="#111" stroke-width="1.53" />
<line x1="981" y1="434" x2="1001" y2="434" stroke="#111" stroke-width="1.89" />
<rect x="983" y="434" width="18" height="3" fill="#111" stroke="none"/>
<rect x="985" y="435" width="14" height="1" fill="#fff" stroke="none"/>
<line x1="983.6" y1="426" x2="983.6" y2="437" stroke="#111" stroke-width="1.42" />
<rect x="980.6" y="437" width="10.6" height="22" fill="none" stroke="#111" stroke-width="1.53"/>
<path d="M985.8 438 V442 Q984 443.2 985.8 444.4 V447 Q984 448.2 985.8 449.4 V452 Q984 453.2 985.8 454.4 V458" fill="none" stroke="#111" stroke-width="1.65" />
<rect x="991.2" y="437.4" width="56.8" height="5.8" fill="#111" stroke="none"/>
<rect x="991.2" y="453" width="56.8" height="5.8" fill="#111" stroke="none"/>
<line x1="991.2" y1="437" x2="991.2" y2="461" stroke="#111" stroke-width="1.65" />
<rect x="1046" y="426" width="4.4" height="35.4" fill="#111" stroke="none"/>
<rect x="994.4" y="445" width="5" height="6.2" fill="#fff" stroke="#111" stroke-width="1.42"/>
<line x1="999.4" y1="444.4" x2="1046" y2="444.4" stroke="#111" stroke-width="1.06" />
<line x1="999.4" y1="452" x2="1046" y2="452" stroke="#111" stroke-width="1.06" />
<rect x="1001" y="436.2" width="9" height="1.4" fill="#111" stroke="none"/>
<rect x="1031" y="460" width="1.4" height="1.6" fill="#111" stroke="none"/>
<line x1="886" y1="461.3" x2="1050" y2="461.3" stroke="#111" stroke-width="1.65" />
<line x1="878" y1="464.4" x2="1132.6" y2="464.4" stroke="#111" stroke-width="1.65" />
<line x1="878" y1="470.4" x2="1132.6" y2="470.4" stroke="#111" stroke-width="1.65" />
<line x1="872.6" y1="481.3" x2="1132.6" y2="481.3" stroke="#111" stroke-width="1.65" />
<line x1="872.6" y1="483.8" x2="1132.6" y2="483.8" stroke="#111" stroke-width="1.06" />
<line x1="872.8" y1="464" x2="872.8" y2="488" stroke="#111" stroke-width="1.65" />
<line x1="876.6" y1="464" x2="876.6" y2="481" stroke="#111" stroke-width="1.42" />
<rect x="878.4" y="466" width="2.2" height="15" fill="#888" stroke="#111" stroke-width="0.944"/>
<line x1="962" y1="464.4" x2="962" y2="481.3" stroke="#111" stroke-width="1.53" />
<line x1="968" y1="464.4" x2="968" y2="481.3" stroke="#111" stroke-width="1.53" />
<line x1="991" y1="464.4" x2="991" y2="481.3" stroke="#111" stroke-width="1.53" />
<line x1="996" y1="464.4" x2="996" y2="481.3" stroke="#111" stroke-width="1.53" />
<line x1="964.4" y1="464.4" x2="964.4" y2="470.4" stroke="#111" stroke-width="1.06" />
<path d="M868 462.4 L870 460.8 L873 461.6 L886.8 461.6 L886.8 465.6 L876 466.4 L873 469 L870.5 465 Z" fill="#111" stroke="#111" stroke-width="0.6" />
<circle cx="885.6" cy="481.3" r="1.3" fill="#111" stroke="#111" stroke-width="0.4"/>
<rect x="960" y="458.6" width="3" height="2.4" fill="#111" stroke="none"/>
<path d="M954 461.3 L958 459.6 L966 459.6 L972 461.3" fill="none" stroke="#111" stroke-width="1.42" />
<rect x="1050.4" y="430" width="17.6" height="31.4" fill="none" stroke="#111" stroke-width="1.77"/>
<path d="M1052.4 437.4 L1052.4 455 L1054 457.4" fill="none" stroke="#111" stroke-width="1.42" />
<rect x="1052" y="437.4" width="13.6" height="17.6" fill="none" stroke="#111" stroke-width="1.42"/>
<rect x="1064.6" y="431" width="2.2" height="30" fill="#111" stroke="none"/>
<rect x="1051" y="430" width="2" height="31" fill="#111" stroke="none"/>
<line x1="1053" y1="440" x2="1064" y2="440" stroke="#111" stroke-width="0.944" />
<path d="M1052 462 Q1052 459.6 1054 459.6 H1063 Q1065.6 459.6 1065.6 462" fill="none" stroke="#111" stroke-width="1.53" />
<rect x="1070.6" y="450" width="13.2" height="18.8" fill="none" stroke="#111" stroke-width="1.65"/>
<line x1="1070.6" y1="453" x2="1083.8" y2="453" stroke="#111" stroke-width="1.06" />
<rect x="1085" y="433" width="13" height="11" fill="none" stroke="#111" stroke-width="1.77"/>
<rect x="1084.4" y="443.6" width="33.8" height="25.2" fill="#111" stroke="none"/>
<path d="M1118.2 443.4 H1128.6 L1132.6 447.6 V464.4 L1128.6 468.6 H1118.2 Z" fill="#fff" stroke="#111" stroke-width="1.53" />
<line x1="1127.4" y1="444" x2="1127.4" y2="468" stroke="#111" stroke-width="1.18" />
<line x1="1050" y1="470.4" x2="1132.6" y2="470.4" stroke="#111" stroke-width="1.65" />
<line x1="1064" y1="476.3" x2="1132.6" y2="476.3" stroke="#111" stroke-width="1.53" />
<line x1="1050" y1="481.9" x2="1132.6" y2="481.9" stroke="#111" stroke-width="1.65" />
<line x1="1046" y1="470.4" x2="1046" y2="481.9" stroke="#111" stroke-width="1.53" />
<line x1="1050" y1="470.4" x2="1050" y2="481.9" stroke="#111" stroke-width="1.53" />
<line x1="1064.4" y1="470.4" x2="1064.4" y2="481.9" stroke="#111" stroke-width="1.53" />
<line x1="1070" y1="470.4" x2="1070" y2="481.9" stroke="#111" stroke-width="1.53" />
<line x1="1088.8" y1="470.4" x2="1088.8" y2="481.9" stroke="#111" stroke-width="1.53" />
<line x1="1095" y1="470.4" x2="1095" y2="481.9" stroke="#111" stroke-width="1.53" />
<line x1="1106.4" y1="470.4" x2="1106.4" y2="481.9" stroke="#111" stroke-width="1.53" />
<line x1="1113.6" y1="470.4" x2="1113.6" y2="481.9" stroke="#111" stroke-width="1.53" />
<line x1="1128.8" y1="470.4" x2="1128.8" y2="481.9" stroke="#111" stroke-width="1.53" />
<line x1="1132.8" y1="470.4" x2="1132.8" y2="481.9" stroke="#111" stroke-width="1.53" />
<line x1="1132.8" y1="468" x2="1132.8" y2="488" stroke="#111" stroke-width="1.53" />
<rect x="1106" y="482" width="2" height="6" fill="#111" stroke="none"/>
<circle cx="1107" cy="481.6" r="1.2" fill="#111" stroke="#111" stroke-width="0.4"/>
<path d="M1003 367.468 L1222 477.975 L1222 483.675 L1003 373.168 Z" fill="#c4c4c4" stroke="#c4c4c4" stroke-width="0.3" />
<line x1="1007" y1="369.486" x2="1222" y2="477.975" stroke="#111" stroke-width="1.53" />
<line x1="1007" y1="371.386" x2="1222" y2="479.875" stroke="#111" stroke-width="1.18" />
<line x1="1002" y1="370.763" x2="1222" y2="481.775" stroke="#111" stroke-width="1.18" />
<line x1="1002" y1="372.663" x2="1222" y2="483.675" stroke="#111" stroke-width="1.53" />
<path d="M981 369.4 L979.4 365.6 L985.2 353.4 L988.6 351.2 L993.6 354 L994.4 366 L990.4 372.4 L985 372.4 Z" fill="#111" stroke="#111" stroke-width="0.6" />
<line x1="975" y1="355.4" x2="986" y2="361.8" stroke="#111" stroke-width="1.89" />
<line x1="981.8" y1="356.6" x2="986" y2="359" stroke="#111" stroke-width="2.83" />
<g transform="rotate(30 1002 360)"><rect x="993.5" y="354.5" width="15.5" height="9" rx="2.4" fill="#fff" stroke="#111" stroke-width="1.5"/><rect x="995.5" y="356.4" width="7.5" height="5" rx="1" fill="none" stroke="#111" stroke-width="1.2"/><line x1="1005" y1="355" x2="1005" y2="363.5" stroke="#111" stroke-width="1.2"/></g>
<rect x="993" y="364" width="11" height="4" fill="#111" stroke="none"/>
<line x1="994" y1="364" x2="1003" y2="370" stroke="#111" stroke-width="2.83" />
<path d="M986.4 372 L985.2 386.6" fill="none" stroke="#111" stroke-width="1.65" />
<path d="M988.8 372 L988 386.6" fill="none" stroke="#111" stroke-width="1.3" />
<path d="M991.4 370 L990.8 386.6" fill="none" stroke="#111" stroke-width="1.65" />
<path d="M993.4 368 L998 375.4 L993.4 386.4" fill="none" stroke="#111" stroke-width="1.53" />
<path d="M996 368 L994.2 374" fill="none" stroke="#111" stroke-width="1.42" />
<rect x="985" y="386.2" width="8.4" height="5.2" fill="#111" stroke="none"/>
<rect x="1216.4" y="465" width="14.6" height="2.4" fill="#111" stroke="none"/>
<rect x="1217.6" y="470" width="11.8" height="2.6" fill="none" stroke="#111" stroke-width="1.3"/>
<rect x="1217.6" y="474" width="11.8" height="2.6" fill="none" stroke="#111" stroke-width="1.3"/>
<rect x="1217.6" y="478" width="11.8" height="2.6" fill="none" stroke="#111" stroke-width="1.3"/>
<line x1="1219.4" y1="467" x2="1219.4" y2="480" stroke="#111" stroke-width="1.42" />
<line x1="1227.6" y1="467" x2="1227.6" y2="480" stroke="#111" stroke-width="1.42" />
<circle cx="1226" cy="483.6" r="3.6" fill="#111" stroke="#111" stroke-width="0.5"/>
<path d="M1216.5 477 L1222 486.5" fill="none" stroke="#111" stroke-width="2.6" />
<path d="M1185.8 489.4 L1185.8 404.4 L1261.8 404.4 L1261.8 489.4" fill="none" stroke="#111" stroke-width="1.65" />
<line x1="1189.4" y1="426.9" x2="1189.4" y2="489.4" stroke="#111" stroke-width="1.53" />
<line x1="1258.2" y1="426.9" x2="1258.2" y2="489.4" stroke="#111" stroke-width="1.53" />
<line x1="1185.8" y1="426.9" x2="1261.8" y2="426.9" stroke="#111" stroke-width="1.77" />
<line x1="1185.8" y1="489.2" x2="1189.4" y2="489.2" stroke="#111" stroke-width="1.65" />
<line x1="1258.2" y1="489.2" x2="1261.8" y2="489.2" stroke="#111" stroke-width="1.65" />
<path d="M1189.6 429 L1219.6 463.8" fill="none" stroke="#111" stroke-width="1.77" />
<path d="M1191.5 429 L1221.4 463.8" fill="none" stroke="#111" stroke-width="1.3" />
<path d="M1257.8 429.6 L1227.4 463.8" fill="none" stroke="#111" stroke-width="1.77" />
<path d="M1255.8 429.6 L1225.6 463.8" fill="none" stroke="#111" stroke-width="1.3" />
<line x1="1223.5" y1="388.8" x2="1223.5" y2="503.4" stroke="#111" stroke-width="1.3" />
<ellipse cx="1223.5" cy="454.1" rx="4.3" ry="3.4" fill="#111" stroke="#111" stroke-width="0.5"/>
<path d="M1276.2 401.4 L1278.6 403.4 C1276 420 1281 432 1280.6 445 C1280.4 452 1286.4 456 1285.6 462 C1284.6 470 1280 474 1280 488" fill="none" stroke="#111" stroke-width="1.42" />
<line x1="1277" y1="403.2" x2="1298" y2="403.2" stroke="#111" stroke-width="1.53" />
<rect x="1298" y="397.4" width="75.8" height="6" fill="none" stroke="#111" stroke-width="1.65"/>
<line x1="1297.8" y1="403.4" x2="1297.8" y2="484" stroke="#111" stroke-width="1.65" />
<line x1="1302" y1="403.4" x2="1302" y2="484" stroke="#111" stroke-width="1.65" />
<line x1="1336.2" y1="403.4" x2="1336.2" y2="484" stroke="#111" stroke-width="1.65" />
<line x1="1340.6" y1="403.4" x2="1340.6" y2="484" stroke="#111" stroke-width="1.65" />
<line x1="1368.8" y1="403.4" x2="1368.8" y2="484" stroke="#111" stroke-width="1.65" />
<line x1="1373.2" y1="403.4" x2="1373.2" y2="484" stroke="#111" stroke-width="1.65" />
<rect x="1280" y="483.8" width="94" height="3.8" fill="none" stroke="#111" stroke-width="1.53"/>
<rect x="1296" y="488" width="7" height="1.4" fill="#111" stroke="none"/>
<rect x="1335" y="488" width="7" height="1.4" fill="#111" stroke="none"/>
<rect x="1368" y="488" width="6" height="1.4" fill="#111" stroke="none"/>
<rect x="1298.8" y="359.6" width="74.8" height="37" fill="none" stroke="#111" stroke-width="1.77"/>
<line x1="1302" y1="360" x2="1302" y2="396.6" stroke="#111" stroke-width="1.42" />
<line x1="1336.4" y1="360" x2="1336.4" y2="396.6" stroke="#111" stroke-width="1.53" />
<line x1="1340.6" y1="360" x2="1340.6" y2="396.6" stroke="#111" stroke-width="1.53" />
<line x1="1368.8" y1="360" x2="1368.8" y2="396.6" stroke="#111" stroke-width="1.42" />
<rect x="1307.5" y="366.9" width="23.1" height="8.1" fill="#111" stroke="none"/>
<rect x="1307.5" y="380.8" width="23.1" height="8.1" fill="#111" stroke="none"/>
<rect x="1343" y="366.9" width="23.9" height="8.1" fill="#111" stroke="none"/>
<rect x="1343" y="380.8" width="23.9" height="8.1" fill="#111" stroke="none"/>
<line x1="1346" y1="353.2" x2="1374.4" y2="353.2" stroke="#111" stroke-width="1.65" />
<line x1="1346" y1="359.4" x2="1374.4" y2="359.4" stroke="#111" stroke-width="1.65" />
<rect x="1292.8" y="213.2" width="5" height="146.2" fill="#111" stroke="none"/>
<rect x="1341.2" y="213.2" width="4.8" height="146.2" fill="#111" stroke="none"/>
<line x1="1300.2" y1="220" x2="1300.2" y2="356" stroke="#111" stroke-width="2.12" />
<line x1="1302.8" y1="220" x2="1302.8" y2="356" stroke="#111" stroke-width="1.53" />
<line x1="1339.8" y1="220" x2="1339.8" y2="356" stroke="#111" stroke-width="1.77" />
<rect x="1292.8" y="213.2" width="53.2" height="7.2" fill="#111" stroke="none"/>
<rect x="1292.8" y="354.6" width="55.2" height="5.2" fill="#111" stroke="none"/>
<rect x="1305" y="356" width="13" height="1.4" fill="#fff" stroke="none"/>
<rect x="1321" y="356" width="18" height="1.4" fill="#fff" stroke="none"/>
<line x1="1297" y1="273.2" x2="1342" y2="273.2" stroke="#111" stroke-width="3.6" />
<line x1="1297" y1="293" x2="1342" y2="293" stroke="#111" stroke-width="2.83" />
<line x1="1297" y1="318.4" x2="1342" y2="318.4" stroke="#111" stroke-width="1.65" />
<line x1="1297" y1="334.6" x2="1342" y2="334.6" stroke="#111" stroke-width="2.36" />
<line x1="1297" y1="350.6" x2="1342" y2="350.6" stroke="#111" stroke-width="1.65" />
<line x1="1319" y1="156" x2="1319" y2="356" stroke="#111" stroke-width="1.53" />
<line x1="1335" y1="319" x2="1335" y2="334" stroke="#111" stroke-width="1.3" />
<line x1="1303.8" y1="231.4" x2="1316" y2="220.4" stroke="#111" stroke-width="2.8" />
<line x1="1322.4" y1="220.4" x2="1338.8" y2="235" stroke="#111" stroke-width="2.8" />
<line x1="1303" y1="232.6" x2="1339" y2="232.6" stroke="#111" stroke-width="1.42" />
<line x1="1303.8" y1="237.4" x2="1315" y2="259.6" stroke="#111" stroke-width="1.65" />
<line x1="1338.8" y1="237.4" x2="1325" y2="259.6" stroke="#111" stroke-width="1.65" />
<rect x="1316" y="243" width="7" height="8.2" fill="#111" stroke="none"/>
<rect x="1305.5" y="252.5" width="5" height="5" fill="#fff" stroke="#111" stroke-width="1.6" transform="rotate(38 1308 255)"/>
<rect x="1331.4" y="243" width="6" height="6" fill="#fff" stroke="#111" stroke-width="1.6" transform="rotate(38 1334.4 246)"/>
<line x1="1332" y1="239.4" x2="1336.6" y2="236.6" stroke="#111" stroke-width="2.36" />
<path d="M1313.4 258.8 L1326.8 258.8 L1325.2 266 L1328.5 271.6 L1311.5 271.6 L1315 266 Z" fill="#111" stroke="#111" stroke-width="0.6" />
<rect x="1297.6" y="190.6" width="42.4" height="22" fill="none" stroke="#111" stroke-width="1.77"/>
<rect x="1297.6" y="157.6" width="52.4" height="4.6" rx="2.2" fill="#111"/>
<rect x="1306" y="158.6" width="39" height="1" fill="#fff" stroke="none"/>
<rect x="1304.4" y="162" width="30.6" height="25" fill="none" stroke="#111" stroke-width="1.65"/>
<line x1="1307" y1="162" x2="1307" y2="187" stroke="#111" stroke-width="1.06" />
<line x1="1332.4" y1="162" x2="1332.4" y2="187" stroke="#111" stroke-width="1.06" />
<line x1="1316.4" y1="162" x2="1316.4" y2="187" stroke="#111" stroke-width="1.06" />
<line x1="1321.6" y1="162" x2="1321.6" y2="187" stroke="#111" stroke-width="1.06" />
<line x1="1304.4" y1="178.4" x2="1335" y2="178.4" stroke="#111" stroke-width="1.42" />
<line x1="1304.4" y1="180.6" x2="1335" y2="180.6" stroke="#111" stroke-width="1.42" />
<line x1="1304.4" y1="184" x2="1335" y2="184" stroke="#111" stroke-width="1.42" />
<rect x="1302" y="187" width="35" height="2.6" fill="#111" stroke="none"/>
<path d="M1335 162.6 H1344 Q1346.2 162.6 1346.2 165 V179 Q1346.2 182 1343 182 H1335" fill="none" stroke="#111" stroke-width="1.53" />
<path d="M1335 180 H1342 Q1344 180 1344 178" fill="none" stroke="#111" stroke-width="1.06" />
<circle cx="1345.2" cy="173" r="2.8" fill="#555" stroke="#111" stroke-width="1.42"/>
<line x1="1347.5" y1="157.6" x2="1492.8" y2="157.6" stroke="#555" stroke-width="1.42" />
<path d="M1320 193.4 H1389 A31.8 27.6 0 0 1 1420.8 221 V463.5 A22.2 19.8 0 0 0 1443 483.3 H1469" fill="none" stroke="#111" stroke-width="4.3" />
<rect x="1342.2" y="189.6" width="3.6" height="8" fill="#111" stroke="none"/>
<rect x="1378.8" y="189.6" width="4.2" height="8" fill="#111" stroke="none"/>
<rect x="1416.8" y="232" width="7.8" height="3.2" fill="#111" stroke="none"/>
<rect x="1416.8" y="451.4" width="8.4" height="2.8" fill="#111" stroke="none"/>
<circle cx="1269.2" cy="366.6" r="26.8" fill="none" stroke="#111" stroke-width="1.77"/>
<line x1="1237.5" y1="367" x2="1296.2" y2="367" stroke="#111" stroke-width="1.18" />
<line x1="1269.2" y1="340.1" x2="1269.2" y2="393.6" stroke="#111" stroke-width="1.18" />
<path d="M1236.5 368.4 L1241 366.4 L1241 370.8 Z" fill="#111" stroke="#111" stroke-width="0.5" />
<path d="M1260.4 372.6 V367.6 A9.3 9.3 0 0 1 1278 367.6 V372.6" fill="none" stroke="#111" stroke-width="2.12" />
<circle cx="1269.2" cy="368.2" r="5.6" fill="none" stroke="#111" stroke-width="1.65"/>
<circle cx="1269.2" cy="368" r="3.4" fill="#333" stroke="#111" stroke-width="1.89"/>
<line x1="1262.8" y1="373.6" x2="1255.2" y2="384.6" stroke="#111" stroke-width="2.95" />
<line x1="1275.6" y1="373.6" x2="1282.8" y2="384.6" stroke="#111" stroke-width="2.95" />
<line x1="1260.2" y1="373.6" x2="1278.2" y2="373.6" stroke="#111" stroke-width="2.83" />
<line x1="1263" y1="356.6" x2="1278.6" y2="356.6" stroke="#111" stroke-width="1.53" />
<line x1="1269.2" y1="356.6" x2="1269.2" y2="360" stroke="#111" stroke-width="1.89" />
<rect x="1274.8" y="342.6" width="1.8" height="7" fill="#111" stroke="none"/>
<line x1="1243.4" y1="366" x2="1271.5" y2="338.6" stroke="#111" stroke-width="2.36" />
<line x1="1247" y1="366" x2="1273" y2="341" stroke="#111" stroke-width="1.42" />
<line x1="1258.8" y1="347.5" x2="1250.2" y2="378" stroke="#111" stroke-width="1.65" />
<line x1="1261.4" y1="348.5" x2="1253" y2="379.5" stroke="#111" stroke-width="1.65" />
<line x1="1256.5" y1="356" x2="1248.5" y2="374.6" stroke="#111" stroke-width="1.42" />
<line x1="1263.4" y1="347" x2="1254.5" y2="380" stroke="#111" stroke-width="1.18" />
<line x1="1253.6" y1="352" x2="1259" y2="354" stroke="#111" stroke-width="1.18" />
<line x1="1251.4" y1="360" x2="1257" y2="362" stroke="#111" stroke-width="1.18" />
<line x1="1249.6" y1="368" x2="1255" y2="370" stroke="#111" stroke-width="1.18" />
<line x1="1248.5" y1="375" x2="1254" y2="377.4" stroke="#111" stroke-width="1.89" />
<line x1="1261" y1="352" x2="1268" y2="349" stroke="#111" stroke-width="1.89" />
<path d="M1278.2 326.6 L1290.4 332.4 L1284.4 344 L1272.4 339.4 Z" fill="#111" stroke="#111" stroke-width="0.6" />
<line x1="1292.8" y1="318.6" x2="1285.4" y2="332" stroke="#111" stroke-width="1.77" />
<line x1="1277.6" y1="316" x2="1280.6" y2="327.6" stroke="#111" stroke-width="1.77" />
<line x1="1282.6" y1="345" x2="1278.6" y2="350" stroke="#111" stroke-width="1.65" />
<path d="M1293 303 H1280.4 Q1277.6 303 1277.6 306 V319.6" fill="none" stroke="#111" stroke-width="1.89" />
<line x1="1280" y1="311.4" x2="1290" y2="311.4" stroke="#111" stroke-width="1.42" />
<rect x="1247" y="309.8" width="30.4" height="5" fill="#777" stroke="#111" stroke-width="1.77"/>
<g transform="rotate(30 1253 394.4)"><rect x="1246" y="389.6" width="14" height="2.6" fill="#fff" stroke="#111" stroke-width="1.2"/><rect x="1246" y="393.2" width="14" height="2.6" fill="#fff" stroke="#111" stroke-width="1.2"/><rect x="1246" y="396.8" width="14" height="2.6" fill="#fff" stroke="#111" stroke-width="1.2"/><line x1="1249.5" y1="388" x2="1249.5" y2="401" stroke="#111" stroke-width="1.3"/><line x1="1256.5" y1="388" x2="1256.5" y2="401" stroke="#111" stroke-width="1.3"/></g>
<line x1="1290.4" y1="383.6" x2="1298" y2="393.8" stroke="#111" stroke-width="1.42" />
<line x1="1492" y1="281" x2="1492" y2="326" stroke="#222" stroke-width="1.42" stroke-dasharray="4 2.2"/>
<rect x="1450.2" y="397.8" width="11" height="11.4" rx="2.2" fill="#111"/>
<rect x="1452" y="399.6" width="2.4" height="1.8" fill="#fff" stroke="none"/>
<rect x="1456.6" y="399.6" width="2.6" height="1.8" fill="#fff" stroke="none"/>
<rect x="1452" y="403.4" width="2.2" height="4.2" fill="#fff" stroke="none"/>
<rect x="1456.8" y="403.4" width="2.2" height="4.2" fill="#fff" stroke="none"/>
<rect x="1444.8" y="409" width="26.6" height="8.2" fill="#111" stroke="none"/>
<rect x="1446.6" y="410.6" width="7.6" height="1.4" fill="#fff" stroke="none"/>
<rect x="1456.6" y="410.6" width="5" height="1.4" fill="#fff" stroke="none"/>
<rect x="1446.6" y="414" width="7.6" height="1.4" fill="#fff" stroke="none"/>
<rect x="1456.6" y="414" width="5" height="1.4" fill="#fff" stroke="none"/>
<rect x="1464" y="411.4" width="5" height="3.2" fill="#555" stroke="none"/>
<line x1="1443" y1="413" x2="1445" y2="413" stroke="#111" stroke-width="1.89" />
<rect x="1446" y="417.2" width="21.6" height="9.8" fill="#111" stroke="none"/>
<rect x="1447.6" y="419.4" width="6.6" height="1.4" fill="#fff" stroke="none"/>
<rect x="1456.6" y="419.4" width="8.4" height="1.4" fill="#fff" stroke="none"/>
<rect x="1447.6" y="423.6" width="6.6" height="1.4" fill="#fff" stroke="none"/>
<rect x="1456.6" y="423.6" width="8.4" height="1.4" fill="#fff" stroke="none"/>
<path d="M1446.2 426.8 L1443 438.4 L1467.8 438.4 L1466.4 426.8" fill="none" stroke="#111" stroke-width="2.01" />
<line x1="1444" y1="437.6" x2="1455.4" y2="427" stroke="#111" stroke-width="1.89" />
<line x1="1467" y1="437.6" x2="1455.4" y2="427" stroke="#111" stroke-width="1.89" />
<line x1="1455.4" y1="427" x2="1455.4" y2="441.6" stroke="#111" stroke-width="1.89" />
<rect x="1434.8" y="418" width="8.2" height="4.2" fill="#111" stroke="none"/>
<line x1="1439.6" y1="418.4" x2="1446.4" y2="421.6" stroke="#111" stroke-width="3.07" />
<rect x="1435.6" y="424.6" width="5.6" height="5.6" fill="#fff" stroke="#111" stroke-width="2.2" transform="rotate(45 1438.4 427.4)"/>
<rect x="1437.4" y="426.4" width="2" height="2" fill="#444" stroke="none"/>
<line x1="1443.2" y1="438.4" x2="1443.2" y2="488" stroke="#111" stroke-width="1.77" />
<line x1="1446.8" y1="438.4" x2="1446.8" y2="488" stroke="#111" stroke-width="1.53" />
<line x1="1446.8" y1="442.8" x2="1465.6" y2="480.2" stroke="#111" stroke-width="1.65" />
<line x1="1467.8" y1="438.4" x2="1479" y2="458.4" stroke="#111" stroke-width="1.65" />
<line x1="1456.6" y1="460" x2="1479" y2="460" stroke="#111" stroke-width="1.53" />
<rect x="1479" y="457.6" width="12" height="3.6" rx="1.8" fill="#111"/>
<rect x="1481" y="458.8" width="6" height="1" fill="#bbb" stroke="none"/>
<line x1="1476.6" y1="460" x2="1476.6" y2="488" stroke="#111" stroke-width="1.65" />
<line x1="1481.4" y1="460" x2="1481.4" y2="488" stroke="#111" stroke-width="1.65" />
<line x1="1468.4" y1="455.8" x2="1468.4" y2="475" stroke="#111" stroke-width="1.42" />
<path d="M1476.4 462 C1475.6 470 1471 474.6 1465.4 474.6" fill="none" stroke="#111" stroke-width="1.53" />
<path d="M1476 473.6 C1472 475 1471.6 485 1467 485.4" fill="none" stroke="#111" stroke-width="1.53" />
<path d="M1460 475 L1463 473.4 L1465.4 480" fill="none" stroke="#111" stroke-width="1.65" />
<path d="M1452 472.4 L1453.4 472.4 L1454 476 L1458 476.4 L1458.4 483 L1453 483 Z" fill="#111" stroke="#111" stroke-width="0.6" />
<rect x="1446.8" y="481.6" width="22.2" height="3.8" fill="#111" stroke="none"/>
<line x1="98.8" y1="777.1" x2="1402.8" y2="777.1" stroke="#222" stroke-width="1.18" />
<rect x="129.4" y="775" width="155" height="4.4" fill="#777" stroke="none"/>
<line x1="129.4" y1="775" x2="284.4" y2="775" stroke="#111" stroke-width="1.06" />
<line x1="129.4" y1="779.4" x2="284.4" y2="779.4" stroke="#111" stroke-width="1.06" />
<rect x="129.4" y="744.8" width="71.9" height="64.6" fill="none" stroke="#111" stroke-width="1.53"/>
<line x1="135.6" y1="744.8" x2="135.6" y2="809.4" stroke="#111" stroke-width="1.3" />
<line x1="129.4" y1="751.3" x2="201.3" y2="751.3" stroke="#111" stroke-width="1.3" />
<line x1="129.4" y1="804.4" x2="201.3" y2="804.4" stroke="#111" stroke-width="1.3" />
<rect x="129.4" y="771.4" width="6.2" height="4" fill="#555" stroke="#111" stroke-width="1.18"/>
<rect x="129.4" y="780.6" width="6.2" height="4" fill="#555" stroke="#111" stroke-width="1.18"/>
<rect x="201.3" y="735" width="79.3" height="87.6" fill="none" stroke="#111" stroke-width="1.53"/>
<line x1="201.3" y1="742" x2="280.6" y2="742" stroke="#111" stroke-width="1.42" />
<line x1="201.3" y1="815.6" x2="280.6" y2="815.6" stroke="#111" stroke-width="1.42" />
<line x1="208" y1="735" x2="208" y2="822.6" stroke="#111" stroke-width="1.42" />
<line x1="273.8" y1="735" x2="273.8" y2="822.6" stroke="#111" stroke-width="1.42" />
<rect x="197.5" y="734.4" width="15" height="8" fill="none" stroke="#111" stroke-width="1.89"/>
<rect x="198.7" y="736" width="3" height="4.8" fill="none" stroke="#111" stroke-width="1.53"/>
<rect x="208.3" y="736" width="3" height="4.8" fill="none" stroke="#111" stroke-width="1.53"/>
<rect x="269.4" y="734.4" width="15" height="8" fill="none" stroke="#111" stroke-width="1.89"/>
<rect x="270.6" y="736" width="3" height="4.8" fill="none" stroke="#111" stroke-width="1.53"/>
<rect x="280.2" y="736" width="3" height="4.8" fill="none" stroke="#111" stroke-width="1.53"/>
<rect x="197.5" y="815" width="15" height="8" fill="none" stroke="#111" stroke-width="1.89"/>
<rect x="198.7" y="816.6" width="3" height="4.8" fill="none" stroke="#111" stroke-width="1.53"/>
<rect x="208.3" y="816.6" width="3" height="4.8" fill="none" stroke="#111" stroke-width="1.53"/>
<rect x="269.4" y="815" width="15" height="8" fill="none" stroke="#111" stroke-width="1.89"/>
<rect x="270.6" y="816.6" width="3" height="4.8" fill="none" stroke="#111" stroke-width="1.53"/>
<rect x="280.2" y="816.6" width="3" height="4.8" fill="none" stroke="#111" stroke-width="1.53"/>
<rect x="273.8" y="771.4" width="6.8" height="4" fill="#555" stroke="#111" stroke-width="1.18"/>
<rect x="273.8" y="780.6" width="6.8" height="4" fill="#555" stroke="#111" stroke-width="1.18"/>
<line x1="208" y1="760.6" x2="302" y2="760.6" stroke="#111" stroke-width="1.42" />
<line x1="208" y1="796.9" x2="302" y2="796.9" stroke="#111" stroke-width="1.42" />
<line x1="302" y1="760.6" x2="302" y2="796.9" stroke="#6a6a6a" stroke-width="1.18" />
<line x1="188.4" y1="752.4" x2="188.4" y2="805.2" stroke="#111" stroke-width="2.6" />
<line x1="220.4" y1="752.4" x2="220.4" y2="805.2" stroke="#111" stroke-width="2.6" />
<line x1="252.6" y1="752.4" x2="252.6" y2="805.2" stroke="#111" stroke-width="2.6" />
<path d="M189 756 L191.4 757.4 L189 759 Z" fill="#111" stroke="#111" stroke-width="0.6" />
<path d="M189 798 L191.4 799.6 L189 801.2 Z" fill="#111" stroke="#111" stroke-width="0.6" />
<path d="M221 756 L223.4 757.4 L221 759 Z" fill="#111" stroke="#111" stroke-width="0.6" />
<path d="M221 798 L223.4 799.6 L221 801.2 Z" fill="#111" stroke="#111" stroke-width="0.6" />
<path d="M252 756 L249.6 757.4 L252 759 Z" fill="#111" stroke="#111" stroke-width="0.6" />
<path d="M252 798 L249.6 799.6 L252 801.2 Z" fill="#111" stroke="#111" stroke-width="0.6" />
<line x1="220.4" y1="772" x2="252.6" y2="772" stroke="#111" stroke-width="2.36" />
<line x1="197.5" y1="787.6" x2="252.6" y2="787.6" stroke="#111" stroke-width="2.36" />
<rect x="188.4" y="770.6" width="12.6" height="18.4" fill="#111" stroke="none"/>
<rect x="190" y="772.6" width="2" height="3.4" fill="#999" stroke="none"/>
<rect x="190" y="781" width="2" height="5" fill="#fff" stroke="none"/>
<rect x="197" y="780" width="3" height="6" fill="#fff" stroke="none"/>
<rect x="201" y="771.4" width="11" height="2.6" fill="#111" stroke="none"/>
<rect x="201" y="779" width="10" height="7" fill="#bbb" stroke="#111" stroke-width="1.18"/>
<rect x="212" y="766.4" width="10" height="22.6" fill="#111" stroke="none"/>
<rect x="214.6" y="767.6" width="3.4" height="3" fill="#111" stroke="#fff" stroke-width="1.06"/>
<rect x="219.6" y="767.4" width="6" height="3.6" fill="#ddd" stroke="#111" stroke-width="1.18"/>
<rect x="216" y="774.6" width="8.6" height="12" fill="#ddd" stroke="#555" stroke-width="1.18"/>
<rect x="212" y="772.4" width="4" height="13.6" fill="#111" stroke="none"/>
<path d="M212 770 L209 767.6" fill="none" stroke="#111" stroke-width="1.42" />
<path d="M152 781.4 L154 783.2 L157 780.6 L170 780" fill="none" stroke="#111" stroke-width="1.89" />
<line x1="278.8" y1="732.8" x2="323" y2="732.8" stroke="#303030" stroke-width="1.3" />
<line x1="275" y1="821.5" x2="323" y2="821.5" stroke="#303030" stroke-width="1.3" />
<rect x="304" y="739" width="29.8" height="75.4" fill="none" stroke="#111" stroke-width="1.65"/>
<line x1="322" y1="739" x2="322" y2="814.4" stroke="#111" stroke-width="1.18" />
<line x1="323.6" y1="739" x2="323.6" y2="814.4" stroke="#111" stroke-width="1.18" />
<path d="M329 742 Q324.6 777 329 812" fill="none" stroke="#111" stroke-width="2.36" />
<path d="M330.4 742 Q327 777 330.4 812" fill="none" stroke="#111" stroke-width="1.42" />
<line x1="332.4" y1="739" x2="332.4" y2="814.4" stroke="#111" stroke-width="1.42" />
<path d="M329 743.4 L330.6 745.4 L329 747 Z" fill="#111" stroke="#111" stroke-width="0.5" />
<path d="M329 807 L330.6 809 L329 811 Z" fill="#111" stroke="#111" stroke-width="0.5" />
<rect x="334.4" y="743.5" width="33.6" height="3.5" fill="#111" stroke="none"/>
<rect x="334.4" y="808" width="33.6" height="3.3" fill="#111" stroke="none"/>
<line x1="336.4" y1="747" x2="336.4" y2="808" stroke="#111" stroke-width="1.3" />
<rect x="337.6" y="747" width="2.4" height="61" fill="#111" stroke="none"/>
<rect x="350.6" y="747" width="2.8" height="61" fill="#111" stroke="none"/>
<rect x="364.4" y="743.5" width="6.2" height="67.8" fill="#111" stroke="none"/>
<rect x="367.4" y="741.4" width="3.6" height="72" fill="#111" stroke="none"/>
<rect x="371" y="739.6" width="29" height="75.4" fill="none" stroke="#111" stroke-width="1.53"/>
<rect x="376.2" y="747.6" width="10" height="59.4" fill="none" stroke="#111" stroke-width="1.89"/>
<line x1="381.2" y1="750" x2="381.2" y2="805" stroke="#111" stroke-width="1.18" stroke-dasharray="7 3"/>
<line x1="378.4" y1="748" x2="378.4" y2="806" stroke="#111" stroke-width="0.944" />
<line x1="384" y1="748" x2="384" y2="806" stroke="#111" stroke-width="0.944" />
<rect x="375.6" y="739.6" width="11.2" height="5.2" fill="#444" stroke="#111" stroke-width="1.65"/>
<line x1="378" y1="740.6" x2="378" y2="743.8" stroke="#ddd" stroke-width="0.7" />
<line x1="380.4" y1="740.6" x2="380.4" y2="743.8" stroke="#ddd" stroke-width="0.7" />
<line x1="382.8" y1="740.6" x2="382.8" y2="743.8" stroke="#ddd" stroke-width="0.7" />
<line x1="385" y1="740.6" x2="385" y2="743.8" stroke="#ddd" stroke-width="0.7" />
<rect x="375.6" y="809.6" width="11.2" height="5.2" fill="#444" stroke="#111" stroke-width="1.65"/>
<line x1="378" y1="810.6" x2="378" y2="813.8" stroke="#ddd" stroke-width="0.7" />
<line x1="380.4" y1="810.6" x2="380.4" y2="813.8" stroke="#ddd" stroke-width="0.7" />
<line x1="382.8" y1="810.6" x2="382.8" y2="813.8" stroke="#ddd" stroke-width="0.7" />
<line x1="385" y1="810.6" x2="385" y2="813.8" stroke="#ddd" stroke-width="0.7" />
<rect x="394" y="742.6" width="1.2" height="4" fill="#111" stroke="none"/>
<rect x="394" y="808" width="1.2" height="4" fill="#111" stroke="none"/>
<line x1="393" y1="746.6" x2="396.2" y2="746.6" stroke="#111" stroke-width="1.18" />
<line x1="393" y1="808" x2="396.2" y2="808" stroke="#111" stroke-width="1.18" />
<rect x="400" y="741.4" width="6.4" height="72" fill="#111" stroke="none"/>
<line x1="386.8" y1="739.5" x2="451" y2="739.5" stroke="#111" stroke-width="1.3" />
<line x1="386.8" y1="815" x2="451" y2="815" stroke="#111" stroke-width="1.3" />
<circle cx="364" cy="815.8" r="1.9" fill="none" stroke="#111" stroke-width="1.06"/>
<line x1="361.6" y1="815.8" x2="366.4" y2="815.8" stroke="#111" stroke-width="0.7" />
<line x1="364" y1="813.4" x2="364" y2="818.2" stroke="#111" stroke-width="0.7" />
<text class="c" x="366.2" y="835.4" font-size="8.6" fill="#111" font-weight="bold" textLength="40" lengthAdjust="spacingAndGlyphs">气管接口, φ12</text>
<rect x="406.4" y="743.5" width="245.6" height="3.1" fill="#111" stroke="none"/>
<rect x="406.4" y="808" width="245.6" height="3.2" fill="#111" stroke="none"/>
<line x1="407.6" y1="746.6" x2="407.6" y2="808" stroke="#111" stroke-width="1.42" />
<rect x="411.9" y="746.6" width="3.7" height="61.4" fill="#666" stroke="none"/>
<line x1="411.9" y1="746.6" x2="411.9" y2="808" stroke="#111" stroke-width="1.53" />
<line x1="415.6" y1="746.6" x2="415.6" y2="808" stroke="#111" stroke-width="1.53" />
<rect x="424.4" y="746.6" width="2.5" height="61.4" fill="#666" stroke="none"/>
<line x1="424.4" y1="746.6" x2="424.4" y2="808" stroke="#111" stroke-width="1.53" />
<line x1="426.9" y1="746.6" x2="426.9" y2="808" stroke="#111" stroke-width="1.53" />
<rect x="437.5" y="746.6" width="2.5" height="61.4" fill="#666" stroke="none"/>
<line x1="437.5" y1="746.6" x2="437.5" y2="808" stroke="#111" stroke-width="1.53" />
<line x1="440" y1="746.6" x2="440" y2="808" stroke="#111" stroke-width="1.53" />
<rect x="451.3" y="746.6" width="3.7" height="61.4" fill="#666" stroke="none"/>
<line x1="451.3" y1="746.6" x2="451.3" y2="808" stroke="#111" stroke-width="1.53" />
<line x1="455" y1="746.6" x2="455" y2="808" stroke="#111" stroke-width="1.53" />
<rect x="467.5" y="746.6" width="3.7" height="61.4" fill="#666" stroke="none"/>
<line x1="467.5" y1="746.6" x2="467.5" y2="808" stroke="#111" stroke-width="1.53" />
<line x1="471.2" y1="746.6" x2="471.2" y2="808" stroke="#111" stroke-width="1.53" />
<rect x="482.5" y="746.6" width="3.1" height="61.4" fill="#666" stroke="none"/>
<line x1="482.5" y1="746.6" x2="482.5" y2="808" stroke="#111" stroke-width="1.53" />
<line x1="485.6" y1="746.6" x2="485.6" y2="808" stroke="#111" stroke-width="1.53" />
<rect x="498" y="746.6" width="3.2" height="61.4" fill="#666" stroke="none"/>
<line x1="498" y1="746.6" x2="498" y2="808" stroke="#111" stroke-width="1.53" />
<line x1="501.2" y1="746.6" x2="501.2" y2="808" stroke="#111" stroke-width="1.53" />
<rect x="514.4" y="746.6" width="3.1" height="61.4" fill="#666" stroke="none"/>
<line x1="514.4" y1="746.6" x2="514.4" y2="808" stroke="#111" stroke-width="1.53" />
<line x1="517.5" y1="746.6" x2="517.5" y2="808" stroke="#111" stroke-width="1.53" />
<rect x="527.5" y="746.6" width="2.5" height="61.4" fill="#666" stroke="none"/>
<line x1="527.5" y1="746.6" x2="527.5" y2="808" stroke="#111" stroke-width="1.53" />
<line x1="530" y1="746.6" x2="530" y2="808" stroke="#111" stroke-width="1.53" />
<rect x="543.8" y="746.6" width="3.1" height="61.4" fill="#666" stroke="none"/>
<line x1="543.8" y1="746.6" x2="543.8" y2="808" stroke="#111" stroke-width="1.53" />
<line x1="546.9" y1="746.6" x2="546.9" y2="808" stroke="#111" stroke-width="1.53" />
<rect x="561.9" y="746.6" width="3.1" height="61.4" fill="#666" stroke="none"/>
<line x1="561.9" y1="746.6" x2="561.9" y2="808" stroke="#111" stroke-width="1.53" />
<line x1="565" y1="746.6" x2="565" y2="808" stroke="#111" stroke-width="1.53" />
<rect x="581.2" y="746.6" width="3.2" height="61.4" fill="#666" stroke="none"/>
<line x1="581.2" y1="746.6" x2="581.2" y2="808" stroke="#111" stroke-width="1.53" />
<line x1="584.4" y1="746.6" x2="584.4" y2="808" stroke="#111" stroke-width="1.53" />
<rect x="596.2" y="746.6" width="3.2" height="61.4" fill="#666" stroke="none"/>
<line x1="596.2" y1="746.6" x2="596.2" y2="808" stroke="#111" stroke-width="1.53" />
<line x1="599.4" y1="746.6" x2="599.4" y2="808" stroke="#111" stroke-width="1.53" />
<rect x="613" y="746.6" width="2.6" height="61.4" fill="#666" stroke="none"/>
<line x1="613" y1="746.6" x2="613" y2="808" stroke="#111" stroke-width="1.53" />
<line x1="615.6" y1="746.6" x2="615.6" y2="808" stroke="#111" stroke-width="1.53" />
<rect x="618" y="746.6" width="3.2" height="61.4" fill="#666" stroke="none"/>
<line x1="618" y1="746.6" x2="618" y2="808" stroke="#111" stroke-width="1.53" />
<line x1="621.2" y1="746.6" x2="621.2" y2="808" stroke="#111" stroke-width="1.53" />
<rect x="630" y="746.6" width="2.5" height="61.4" fill="#666" stroke="none"/>
<line x1="630" y1="746.6" x2="630" y2="808" stroke="#111" stroke-width="1.53" />
<line x1="632.5" y1="746.6" x2="632.5" y2="808" stroke="#111" stroke-width="1.53" />
<rect x="607" y="740.4" width="25.5" height="3.1" fill="#111" stroke="none"/>
<rect x="607" y="811.2" width="25.5" height="2.8" fill="#111" stroke="none"/>
<line x1="590.6" y1="741.3" x2="607" y2="741.3" stroke="#6a6a6a" stroke-width="1.06" />
<line x1="590.6" y1="813.2" x2="607" y2="813.2" stroke="#6a6a6a" stroke-width="1.06" />
<path d="M525.9 746.6 L524.5 751.6 L527.3 751.6 Z" fill="#303030" stroke="#303030" stroke-width="0.3" />
<path d="M525.9 808 L524.5 803 L527.3 803 Z" fill="#303030" stroke="#303030" stroke-width="0.3" />
<path d="M444.4 739.5 L443 744.5 L445.8 744.5 Z" fill="#303030" stroke="#303030" stroke-width="0.3" />
<path d="M444.4 815 L443 810 L445.8 810 Z" fill="#303030" stroke="#303030" stroke-width="0.3" />
<rect x="588.5" y="816" width="64" height="20.2" fill="none" stroke="#111" stroke-width="1.77"/>
<path d="M621.4 817.2 L624.9 823.3 L628.1 827.1 L624.9 827.5 L627.8 836.1 L622.3 827.5 L618.8 823.9 L622.3 824.2 Z" fill="#111" stroke="#111" stroke-width="0.5" />
<rect x="650" y="697.5" width="81.2" height="40" fill="none" stroke="#111" stroke-width="2.36"/>
<rect x="653.8" y="701" width="73.7" height="36.5" fill="none" stroke="#111" stroke-width="1.18"/>
<line x1="689" y1="701" x2="689" y2="743.5" stroke="#666" stroke-width="1.77" />
<line x1="692.8" y1="701" x2="692.8" y2="743.5" stroke="#666" stroke-width="1.77" />
<line x1="650.6" y1="737.5" x2="650.6" y2="743.5" stroke="#111" stroke-width="1.18" />
<line x1="653.8" y1="737.5" x2="653.8" y2="743.5" stroke="#111" stroke-width="1.18" />
<line x1="727.5" y1="737.5" x2="727.5" y2="743.5" stroke="#111" stroke-width="1.18" />
<line x1="731" y1="737.5" x2="731" y2="743.5" stroke="#111" stroke-width="1.18" />
<text class="c" x="680.8" y="722.4" font-size="13.3" fill="#222" font-weight="bold" textLength="26.6" lengthAdjust="spacingAndGlyphs">油模温</text>
<rect x="645" y="743.6" width="156" height="3.6" fill="#111" stroke="none"/>
<rect x="645" y="806.6" width="156" height="4.2" fill="#111" stroke="none"/>
<rect x="647.7" y="747" width="4.2" height="60" fill="#111" stroke="none"/>
<rect x="662.5" y="746.6" width="3.1" height="61.4" fill="#666" stroke="none"/>
<line x1="662.5" y1="746.6" x2="662.5" y2="808" stroke="#111" stroke-width="1.53" />
<line x1="665.6" y1="746.6" x2="665.6" y2="808" stroke="#111" stroke-width="1.53" />
<rect x="679.4" y="746.6" width="3.1" height="61.4" fill="#666" stroke="none"/>
<line x1="679.4" y1="746.6" x2="679.4" y2="808" stroke="#111" stroke-width="1.53" />
<line x1="682.5" y1="746.6" x2="682.5" y2="808" stroke="#111" stroke-width="1.53" />
<rect x="689" y="746.6" width="3.2" height="61.4" fill="#666" stroke="none"/>
<line x1="689" y1="746.6" x2="689" y2="808" stroke="#111" stroke-width="1.53" />
<line x1="692.2" y1="746.6" x2="692.2" y2="808" stroke="#111" stroke-width="1.53" />
<line x1="655" y1="747" x2="655" y2="807" stroke="#111" stroke-width="1.18" />
<line x1="652" y1="749.6" x2="697" y2="749.6" stroke="#6a6a6a" stroke-width="1.06" />
<line x1="652" y1="804.4" x2="697" y2="804.4" stroke="#6a6a6a" stroke-width="1.06" />
<rect x="696.6" y="747" width="104.4" height="60" fill="#111" stroke="none"/>
<rect x="700.6" y="747.8" width="1.7" height="58.4" fill="#f4f4f4" stroke="none"/>
<rect x="706.6" y="747.8" width="1.7" height="58.4" fill="#f4f4f4" stroke="none"/>
<rect x="712.6" y="747.8" width="1.7" height="58.4" fill="#f4f4f4" stroke="none"/>
<rect x="718.6" y="747.8" width="1.7" height="58.4" fill="#f4f4f4" stroke="none"/>
<rect x="724.6" y="747.8" width="1.7" height="58.4" fill="#f4f4f4" stroke="none"/>
<rect x="730.6" y="747.8" width="1.7" height="58.4" fill="#f4f4f4" stroke="none"/>
<rect x="736.6" y="747.8" width="1.7" height="58.4" fill="#f4f4f4" stroke="none"/>
<rect x="742.6" y="747.8" width="1.7" height="58.4" fill="#f4f4f4" stroke="none"/>
<rect x="748.6" y="747.8" width="1.7" height="58.4" fill="#f4f4f4" stroke="none"/>
<rect x="754.6" y="747.8" width="1.7" height="58.4" fill="#f4f4f4" stroke="none"/>
<rect x="760.6" y="747.8" width="1.7" height="58.4" fill="#f4f4f4" stroke="none"/>
<rect x="766.6" y="747.8" width="1.7" height="58.4" fill="#f4f4f4" stroke="none"/>
<rect x="772.6" y="747.8" width="1.7" height="58.4" fill="#f4f4f4" stroke="none"/>
<rect x="778.6" y="747.8" width="1.7" height="58.4" fill="#f4f4f4" stroke="none"/>
<rect x="784.6" y="747.8" width="1.7" height="58.4" fill="#f4f4f4" stroke="none"/>
<rect x="790.6" y="747.8" width="1.7" height="58.4" fill="#f4f4f4" stroke="none"/>
<rect x="796.6" y="747.8" width="1.7" height="58.4" fill="#f4f4f4" stroke="none"/>
<rect x="703.6" y="766" width="1.2" height="6.4" fill="#777" stroke="none"/>
<rect x="703.6" y="781.8" width="1.2" height="6.2" fill="#777" stroke="none"/>
<rect x="709.6" y="766" width="1.2" height="6.4" fill="#777" stroke="none"/>
<rect x="709.6" y="781.8" width="1.2" height="6.2" fill="#777" stroke="none"/>
<rect x="715.6" y="766" width="1.2" height="6.4" fill="#777" stroke="none"/>
<rect x="715.6" y="781.8" width="1.2" height="6.2" fill="#777" stroke="none"/>
<rect x="721.6" y="766" width="1.2" height="6.4" fill="#777" stroke="none"/>
<rect x="721.6" y="781.8" width="1.2" height="6.2" fill="#777" stroke="none"/>
<rect x="727.6" y="766" width="1.2" height="6.4" fill="#777" stroke="none"/>
<rect x="727.6" y="781.8" width="1.2" height="6.2" fill="#777" stroke="none"/>
<rect x="733.6" y="766" width="1.2" height="6.4" fill="#777" stroke="none"/>
<rect x="733.6" y="781.8" width="1.2" height="6.2" fill="#777" stroke="none"/>
<rect x="739.6" y="766" width="1.2" height="6.4" fill="#777" stroke="none"/>
<rect x="739.6" y="781.8" width="1.2" height="6.2" fill="#777" stroke="none"/>
<rect x="745.6" y="766" width="1.2" height="6.4" fill="#777" stroke="none"/>
<rect x="745.6" y="781.8" width="1.2" height="6.2" fill="#777" stroke="none"/>
<rect x="751.6" y="766" width="1.2" height="6.4" fill="#777" stroke="none"/>
<rect x="751.6" y="781.8" width="1.2" height="6.2" fill="#777" stroke="none"/>
<rect x="757.6" y="766" width="1.2" height="6.4" fill="#777" stroke="none"/>
<rect x="757.6" y="781.8" width="1.2" height="6.2" fill="#777" stroke="none"/>
<rect x="763.6" y="766" width="1.2" height="6.4" fill="#777" stroke="none"/>
<rect x="763.6" y="781.8" width="1.2" height="6.2" fill="#777" stroke="none"/>
<rect x="769.6" y="766" width="1.2" height="6.4" fill="#777" stroke="none"/>
<rect x="769.6" y="781.8" width="1.2" height="6.2" fill="#777" stroke="none"/>
<rect x="775.6" y="766" width="1.2" height="6.4" fill="#777" stroke="none"/>
<rect x="775.6" y="781.8" width="1.2" height="6.2" fill="#777" stroke="none"/>
<rect x="781.6" y="766" width="1.2" height="6.4" fill="#777" stroke="none"/>
<rect x="781.6" y="781.8" width="1.2" height="6.2" fill="#777" stroke="none"/>
<rect x="787.6" y="766" width="1.2" height="6.4" fill="#777" stroke="none"/>
<rect x="787.6" y="781.8" width="1.2" height="6.2" fill="#777" stroke="none"/>
<rect x="793.6" y="766" width="1.2" height="6.4" fill="#777" stroke="none"/>
<rect x="793.6" y="781.8" width="1.2" height="6.2" fill="#777" stroke="none"/>
<line x1="697" y1="777" x2="801" y2="777" stroke="#333" stroke-width="1.06" />
<rect x="765" y="737.6" width="72.4" height="4.6" fill="#fff" stroke="#111" stroke-width="1.53"/>
<rect x="765" y="811.6" width="72.4" height="4.6" fill="#fff" stroke="#111" stroke-width="1.53"/>
<rect x="765" y="742.2" width="36" height="4.8" fill="#111" stroke="none"/>
<rect x="765" y="806" width="36" height="5.6" fill="#111" stroke="none"/>
<rect x="834.6" y="737.6" width="2.8" height="4.6" fill="#111" stroke="none"/>
<rect x="834.6" y="811.6" width="2.8" height="4.6" fill="#111" stroke="none"/>
<line x1="801" y1="744.6" x2="836" y2="744.6" stroke="#111" stroke-width="1.89" />
<line x1="801" y1="809.6" x2="836" y2="809.6" stroke="#111" stroke-width="1.89" />
<line x1="801" y1="747.4" x2="836" y2="747.4" stroke="#6a6a6a" stroke-width="1.18" />
<line x1="801" y1="806.4" x2="836" y2="806.4" stroke="#6a6a6a" stroke-width="1.18" />
<line x1="803.8" y1="744" x2="803.8" y2="809" stroke="#111" stroke-width="1.65" />
<rect x="812.6" y="747" width="3.6" height="59" fill="#6a6a6a" stroke="none"/>
<rect x="820" y="747" width="3.6" height="59" fill="#6a6a6a" stroke="none"/>
<line x1="812.6" y1="747" x2="812.6" y2="806" stroke="#111" stroke-width="0.944" />
<line x1="823.6" y1="747" x2="823.6" y2="806" stroke="#111" stroke-width="0.944" />
<line x1="801" y1="776.6" x2="826" y2="776.6" stroke="#111" stroke-width="1.65" />
<line x1="835.4" y1="742" x2="835.4" y2="812" stroke="#111" stroke-width="1.42" />
<text class="c" font-size="7.5" fill="#111" font-weight="bold" transform="translate(832 793.5) rotate(-90)" textLength="35" lengthAdjust="spacingAndGlyphs">三辊压光机</text>
<line x1="741.6" y1="700" x2="741.6" y2="743.6" stroke="#6a6a6a" stroke-width="3.07" />
<line x1="741.6" y1="811" x2="741.6" y2="853.6" stroke="#6a6a6a" stroke-width="3.07" />
<line x1="740.6" y1="701.4" x2="768" y2="701.4" stroke="#6a6a6a" stroke-width="2.36" />
<line x1="775" y1="701.4" x2="784" y2="701.4" stroke="#6a6a6a" stroke-width="2.36" />
<line x1="791" y1="701.4" x2="800" y2="701.4" stroke="#6a6a6a" stroke-width="2.36" />
<line x1="808" y1="701.4" x2="835.6" y2="701.4" stroke="#6a6a6a" stroke-width="2.36" />
<line x1="744" y1="733.6" x2="768" y2="733.6" stroke="#6a6a6a" stroke-width="2.6" />
<line x1="775" y1="733.6" x2="784" y2="733.6" stroke="#6a6a6a" stroke-width="2.6" />
<line x1="791" y1="733.6" x2="800" y2="733.6" stroke="#6a6a6a" stroke-width="2.6" />
<line x1="808" y1="733.6" x2="833" y2="733.6" stroke="#6a6a6a" stroke-width="2.6" />
<line x1="762" y1="701" x2="762" y2="734" stroke="#6a6a6a" stroke-width="2.83" />
<line x1="788" y1="701" x2="788" y2="734" stroke="#6a6a6a" stroke-width="2.83" />
<line x1="814.6" y1="701" x2="814.6" y2="734" stroke="#6a6a6a" stroke-width="2.83" />
<line x1="834" y1="701" x2="834" y2="734" stroke="#6a6a6a" stroke-width="2.83" />
<rect x="744" y="702.6" width="7" height="6" fill="none" stroke="#444" stroke-width="1.42"/>
<rect x="826" y="702.6" width="7" height="6" fill="none" stroke="#444" stroke-width="1.42"/>
<line x1="744" y1="709.6" x2="760" y2="709.6" stroke="#444" stroke-width="1.65" />
<line x1="816" y1="709.6" x2="833" y2="709.6" stroke="#444" stroke-width="1.65" />
<line x1="751" y1="700" x2="751" y2="709.6" stroke="#444" stroke-width="1.42" />
<line x1="826" y1="700" x2="826" y2="709.6" stroke="#444" stroke-width="1.42" />
<line x1="788" y1="701" x2="788" y2="734" stroke="#fff" stroke-width="0.944" />
<line x1="744" y1="739.6" x2="765" y2="739.6" stroke="#6a6a6a" stroke-width="1.89" />
<line x1="743.8" y1="816" x2="743.8" y2="853" stroke="#6a6a6a" stroke-width="3.07" />
<line x1="762" y1="816" x2="762" y2="853" stroke="#6a6a6a" stroke-width="3.07" />
<line x1="783" y1="816" x2="783" y2="853" stroke="#6a6a6a" stroke-width="3.07" />
<line x1="795.6" y1="816" x2="795.6" y2="853" stroke="#6a6a6a" stroke-width="3.07" />
<line x1="814" y1="816" x2="814" y2="853" stroke="#6a6a6a" stroke-width="3.07" />
<line x1="834.6" y1="816" x2="834.6" y2="853" stroke="#6a6a6a" stroke-width="3.07" />
<line x1="744" y1="820" x2="767" y2="820" stroke="#6a6a6a" stroke-width="2.83" />
<line x1="776" y1="820" x2="800" y2="820" stroke="#6a6a6a" stroke-width="2.83" />
<line x1="809" y1="820" x2="833" y2="820" stroke="#6a6a6a" stroke-width="2.83" />
<line x1="744" y1="845" x2="761" y2="845" stroke="#6a6a6a" stroke-width="2.6" />
<line x1="815" y1="845" x2="833" y2="845" stroke="#6a6a6a" stroke-width="2.6" />
<line x1="751" y1="845" x2="751" y2="853" stroke="#444" stroke-width="1.18" />
<line x1="826" y1="845" x2="826" y2="853" stroke="#444" stroke-width="1.18" />
<line x1="741" y1="853.5" x2="897.5" y2="853.5" stroke="#6a6a6a" stroke-width="2.36" />
<circle cx="788" cy="832" r="6.2" fill="none" stroke="#333" stroke-width="1.53"/>
<line x1="779" y1="832" x2="797.6" y2="832" stroke="#333" stroke-width="1.06" />
<line x1="788" y1="822" x2="788" y2="842" stroke="#333" stroke-width="1.06" />
<circle cx="788" cy="832" r="4.2" fill="none" stroke="#333" stroke-width="1.06"/>
<rect x="674.4" y="823.2" width="63.6" height="29.2" fill="none" stroke="#111" stroke-width="1.89"/>
<rect x="680.6" y="824" width="2.4" height="28" fill="#666" stroke="none"/>
<line x1="680.6" y1="824" x2="680.6" y2="852" stroke="#111" stroke-width="1.06" />
<line x1="683" y1="824" x2="683" y2="852" stroke="#111" stroke-width="1.06" />
<rect x="686.75" y="824" width="2.4" height="28" fill="#666" stroke="none"/>
<line x1="686.75" y1="824" x2="686.75" y2="852" stroke="#111" stroke-width="1.06" />
<line x1="689.15" y1="824" x2="689.15" y2="852" stroke="#111" stroke-width="1.06" />
<rect x="692.9" y="824" width="2.4" height="28" fill="#666" stroke="none"/>
<line x1="692.9" y1="824" x2="692.9" y2="852" stroke="#111" stroke-width="1.06" />
<line x1="695.3" y1="824" x2="695.3" y2="852" stroke="#111" stroke-width="1.06" />
<rect x="699.05" y="824" width="2.4" height="28" fill="#666" stroke="none"/>
<line x1="699.05" y1="824" x2="699.05" y2="852" stroke="#111" stroke-width="1.06" />
<line x1="701.45" y1="824" x2="701.45" y2="852" stroke="#111" stroke-width="1.06" />
<rect x="705.2" y="824" width="2.4" height="28" fill="#666" stroke="none"/>
<line x1="705.2" y1="824" x2="705.2" y2="852" stroke="#111" stroke-width="1.06" />
<line x1="707.6" y1="824" x2="707.6" y2="852" stroke="#111" stroke-width="1.06" />
<rect x="711.35" y="824" width="2.4" height="28" fill="#666" stroke="none"/>
<line x1="711.35" y1="824" x2="711.35" y2="852" stroke="#111" stroke-width="1.06" />
<line x1="713.75" y1="824" x2="713.75" y2="852" stroke="#111" stroke-width="1.06" />
<rect x="717.5" y="824" width="2.4" height="28" fill="#666" stroke="none"/>
<line x1="717.5" y1="824" x2="717.5" y2="852" stroke="#111" stroke-width="1.06" />
<line x1="719.9" y1="824" x2="719.9" y2="852" stroke="#111" stroke-width="1.06" />
<rect x="723.65" y="824" width="2.4" height="28" fill="#666" stroke="none"/>
<line x1="723.65" y1="824" x2="723.65" y2="852" stroke="#111" stroke-width="1.06" />
<line x1="726.05" y1="824" x2="726.05" y2="852" stroke="#111" stroke-width="1.06" />
<rect x="729.8" y="824" width="2.4" height="28" fill="#666" stroke="none"/>
<line x1="729.8" y1="824" x2="729.8" y2="852" stroke="#111" stroke-width="1.06" />
<line x1="732.2" y1="824" x2="732.2" y2="852" stroke="#111" stroke-width="1.06" />
<rect x="735.95" y="824" width="2.4" height="28" fill="#666" stroke="none"/>
<line x1="735.95" y1="824" x2="735.95" y2="852" stroke="#111" stroke-width="1.06" />
<line x1="738.35" y1="824" x2="738.35" y2="852" stroke="#111" stroke-width="1.06" />
<rect x="736.4" y="821" width="5" height="33" fill="#111" stroke="none"/>
<line x1="738.8" y1="823" x2="738.8" y2="852" stroke="#999" stroke-width="0.944" />
<rect x="841.2" y="750" width="20.8" height="54.4" fill="none" stroke="#111" stroke-width="1.65"/>
<rect x="862" y="770.8" width="10.5" height="11.4" fill="#111" stroke="none"/>
<rect x="865" y="774.6" width="4.6" height="4.4" fill="#fff" stroke="none"/>
<rect x="867" y="775.6" width="1.6" height="2.4" fill="#111" stroke="none"/>
<rect x="872" y="767.6" width="5.6" height="18.6" fill="#111" stroke="none"/>
<rect x="873.6" y="770" width="1.6" height="1.6" fill="#aaa" stroke="none"/>
<rect x="873.6" y="774" width="1.6" height="1.6" fill="#aaa" stroke="none"/>
<rect x="873.6" y="778" width="1.6" height="1.6" fill="#aaa" stroke="none"/>
<rect x="873.6" y="782" width="1.6" height="1.6" fill="#aaa" stroke="none"/>
<line x1="878.8" y1="741.6" x2="1140.2" y2="741.6" stroke="#111" stroke-width="2.36" />
<line x1="878.8" y1="741.6" x2="878.8" y2="800" stroke="#111" stroke-width="1.65" />
<line x1="878.8" y1="799.4" x2="1140.2" y2="799.4" stroke="#111" stroke-width="2.36" />
<line x1="1140.2" y1="741.6" x2="1140.2" y2="799.4" stroke="#111" stroke-width="1.89" />
<rect x="887" y="800" width="168.6" height="22" fill="none" stroke="#111" stroke-width="1.65"/>
<line x1="889" y1="800" x2="889" y2="822" stroke="#111" stroke-width="1.18" />
<line x1="887" y1="817" x2="1055.6" y2="817" stroke="#111" stroke-width="1.53" />
<rect x="903" y="798.6" width="2" height="2.4" fill="#111" stroke="none"/>
<rect x="908" y="798.6" width="2" height="2.4" fill="#111" stroke="none"/>
<rect x="967" y="798.6" width="2" height="2.4" fill="#111" stroke="none"/>
<rect x="972" y="798.6" width="2" height="2.4" fill="#111" stroke="none"/>
<rect x="1036" y="798.6" width="2" height="2.4" fill="#111" stroke="none"/>
<path d="M882.9 763.8 V757.2 A5.6 5.6 0 0 1 894.1 757.2 V763.8" fill="#fff" stroke="#111" stroke-width="1.77" />
<circle cx="888.5" cy="757.4" r="2.9" fill="#fff" stroke="#111" stroke-width="1.89"/>
<path d="M896.3 763.8 V757.2 A5.6 5.6 0 0 1 907.5 757.2 V763.8" fill="#fff" stroke="#111" stroke-width="1.77" />
<circle cx="901.9" cy="757.4" r="2.9" fill="#fff" stroke="#111" stroke-width="1.89"/>
<path d="M912.2 763.8 V757.2 A5.6 5.6 0 0 1 923.4 757.2 V763.8" fill="#fff" stroke="#111" stroke-width="1.77" />
<circle cx="917.8" cy="757.4" r="2.9" fill="#fff" stroke="#111" stroke-width="1.89"/>
<path d="M936.3 763.8 V757.2 A5.6 5.6 0 0 1 947.5 757.2 V763.8" fill="#fff" stroke="#111" stroke-width="1.77" />
<circle cx="941.9" cy="757.4" r="2.9" fill="#fff" stroke="#111" stroke-width="1.89"/>
<path d="M955.4 763.8 V757.2 A5.6 5.6 0 0 1 966.6 757.2 V763.8" fill="#fff" stroke="#111" stroke-width="1.77" />
<circle cx="961" cy="757.4" r="2.9" fill="#fff" stroke="#111" stroke-width="1.89"/>
<rect x="878.2" y="763.8" width="46.8" height="26.8" fill="#fff" stroke="#111" stroke-width="1.77"/>
<line x1="878.2" y1="766.8" x2="925" y2="766.8" stroke="#111" stroke-width="1.89" />
<line x1="878.2" y1="768.8" x2="925" y2="768.8" stroke="#111" stroke-width="1.18" />
<line x1="878.2" y1="785" x2="925" y2="785" stroke="#111" stroke-width="1.42" />
<line x1="878.2" y1="788.6" x2="925" y2="788.6" stroke="#111" stroke-width="3" />
<rect x="928.8" y="763.8" width="37.4" height="26.8" fill="#fff" stroke="#111" stroke-width="1.77"/>
<line x1="928.8" y1="766.8" x2="966.2" y2="766.8" stroke="#111" stroke-width="1.89" />
<line x1="928.8" y1="768.8" x2="966.2" y2="768.8" stroke="#111" stroke-width="1.18" />
<line x1="928.8" y1="785" x2="966.2" y2="785" stroke="#111" stroke-width="1.42" />
<line x1="928.8" y1="788.6" x2="966.2" y2="788.6" stroke="#111" stroke-width="3" />
<line x1="888.8" y1="763.8" x2="888.8" y2="790.6" stroke="#111" stroke-width="1.89" />
<line x1="901.2" y1="763.8" x2="901.2" y2="790.6" stroke="#111" stroke-width="1.89" />
<line x1="946.2" y1="763.8" x2="946.2" y2="790.6" stroke="#111" stroke-width="1.89" />
<rect x="924.6" y="770" width="4.6" height="14" fill="#111" stroke="none"/>
<line x1="928" y1="771.6" x2="944" y2="771.6" stroke="#111" stroke-width="1.06" />
<path d="M938 771.6 L941 773 L945 773" fill="none" stroke="#111" stroke-width="1.06" />
<path d="M900 790.6 L901.4 792.4 L904 792.4 L905.4 790.6" fill="none" stroke="#111" stroke-width="1.18" />
<rect x="966.2" y="766.8" width="13.8" height="20.2" fill="none" stroke="#111" stroke-width="1.53"/>
<line x1="966.2" y1="769.6" x2="980" y2="769.6" stroke="#111" stroke-width="1.42" />
<line x1="966.2" y1="784.4" x2="980" y2="784.4" stroke="#111" stroke-width="1.42" />
<rect x="967.5" y="742" width="25" height="20.6" fill="none" stroke="#111" stroke-width="1.77"/>
<line x1="967.5" y1="742.6" x2="992.5" y2="742.6" stroke="#111" stroke-width="3.07" />
<rect x="996" y="762" width="58" height="4.2" fill="#111" stroke="none"/>
<rect x="996" y="788" width="58" height="4.2" fill="#111" stroke="none"/>
<line x1="1000" y1="769.2" x2="1054" y2="769.2" stroke="#111" stroke-width="1.53" />
<line x1="1000" y1="771.9" x2="1054" y2="771.9" stroke="#111" stroke-width="1.53" />
<line x1="1000" y1="782.5" x2="1054" y2="782.5" stroke="#111" stroke-width="1.53" />
<line x1="1000" y1="785.2" x2="1054" y2="785.2" stroke="#111" stroke-width="1.53" />
<line x1="1007" y1="771.9" x2="1200" y2="771.9" stroke="#111" stroke-width="1.77" />
<line x1="1007" y1="782.5" x2="1200" y2="782.5" stroke="#111" stroke-width="1.77" />
<rect x="979.6" y="767" width="3.8" height="20.4" fill="#111" stroke="none"/>
<circle cx="995" cy="776.9" r="12.2" fill="#fff" stroke="#111" stroke-width="2.83"/>
<line x1="983" y1="776.9" x2="1007" y2="776.9" stroke="#222" stroke-width="1.06" />
<rect x="990.6" y="775.8" width="9" height="2.4" rx="1.2" fill="#111"/>
<rect x="993.6" y="789.6" width="2.8" height="2" fill="#111" stroke="none"/>
<rect x="1053.8" y="741.6" width="3.8" height="57.8" fill="#111" stroke="none"/>
<rect x="1072.4" y="741.6" width="4" height="57.8" fill="#111" stroke="none"/>
<line x1="1053.8" y1="742.4" x2="1076.4" y2="742.4" stroke="#111" stroke-width="2.83" />
<line x1="1053.8" y1="798.6" x2="1076.4" y2="798.6" stroke="#111" stroke-width="2.83" />
<rect x="1058" y="745.6" width="12.6" height="7" fill="none" stroke="#111" stroke-width="1.89"/>
<rect x="1057.4" y="787" width="13.6" height="8.8" fill="none" stroke="#111" stroke-width="2.12" rx="1.6"/>
<line x1="1057.6" y1="754.4" x2="1072.4" y2="754.4" stroke="#111" stroke-width="1.89" />
<line x1="1057.6" y1="785.2" x2="1072.4" y2="785.2" stroke="#111" stroke-width="1.65" />
<line x1="1059.4" y1="744" x2="1059.4" y2="753" stroke="#111" stroke-width="1.06" />
<line x1="1059" y1="787" x2="1059" y2="796" stroke="#111" stroke-width="1.06" />
<rect x="1078" y="743" width="12.8" height="5.8" fill="none" stroke="#111" stroke-width="1.53"/>
<rect x="1078" y="752.6" width="12.8" height="10" fill="none" stroke="#111" stroke-width="1.53"/>
<line x1="1078" y1="765" x2="1091" y2="765" stroke="#111" stroke-width="1.53" />
<path d="M1091.2 742 H1125 V767.6 Q1125 770.2 1122 770.2 H1094.4 Q1091.2 770.2 1091.2 767 Z" fill="#111"/>
<rect x="1094.4" y="753" width="7.6" height="7.8" fill="#fff" stroke="none"/>
<path d="M1125.6 745.6 H1135 Q1140 745.6 1140 751 V763.6 Q1140 768.8 1135 768.8 H1125.6 Z" fill="#fff" stroke="#111" stroke-width="1.5"/>
<path d="M1134 746.6 Q1137.6 757 1134 767.8" fill="none" stroke="#111" stroke-width="1.06" />
<rect x="1122.6" y="770" width="2.4" height="5" fill="#111" stroke="none"/>
<circle cx="1200.6" cy="777.2" r="6" fill="#fff" stroke="#111" stroke-width="1.89"/>
<line x1="1194.6" y1="777.2" x2="1206.6" y2="777.2" stroke="#111" stroke-width="1.06" />
<line x1="1200.6" y1="771.2" x2="1200.6" y2="783.2" stroke="#111" stroke-width="1.06" />
<path d="M1196 771.6 Q1192.4 777 1196 782.8" fill="none" stroke="#111" stroke-width="1.65" />
<circle cx="981.2" cy="847" r="2.7" fill="#fff" stroke="#222" stroke-width="1.18"/>
<path d="M983.4 832 Q987.6 839 987.2 845 Q986.4 850.6 981 851.2 Q976 850.6 969.6 845.4 L975.8 835.4 M972.4 842.4 L978 846 M986.6 838.6 L983 845.2" fill="none" stroke="#222" stroke-width="1.18" />
<path d="M983 832.4 Q985.6 838 984.6 843.6" fill="none" stroke="#222" stroke-width="1.18" />
<rect x="1191.9" y="741" width="72.5" height="72.5" fill="none" stroke="#111" stroke-width="2.01"/>
<line x1="1228.4" y1="741" x2="1228.4" y2="823.8" stroke="#222" stroke-width="1.18" />
<circle cx="1228.4" cy="758.8" r="4.6" fill="none" stroke="#111" stroke-width="1.42"/>
<line x1="1218.6" y1="756" x2="1236.4" y2="761.6" stroke="#111" stroke-width="1.06" />
<circle cx="1228.4" cy="795.6" r="4.8" fill="#fff" stroke="#111" stroke-width="1.42"/>
<circle cx="1254.4" cy="776.9" r="5.5" fill="none" stroke="#111" stroke-width="2.12"/>
<line x1="1254.4" y1="758" x2="1254.4" y2="795" stroke="#111" stroke-width="1.18" />
<line x1="1193" y1="803.6" x2="1223.8" y2="793.6" stroke="#111" stroke-width="1.53" />
<line x1="1193" y1="808" x2="1224.6" y2="797.8" stroke="#111" stroke-width="1.53" />
<rect x="1243.8" y="709.4" width="98.7" height="118.1" fill="none" stroke="#111" stroke-width="1.42"/>
<path d="M1342.5 718.8 L1374.4 718.8 L1374.4 827.5 L1342.5 827.5" fill="none" stroke="#111" stroke-width="1.53" />
<line x1="1346.2" y1="730" x2="1374.4" y2="730" stroke="#111" stroke-width="1.53" />
<line x1="1346.2" y1="744.4" x2="1374.4" y2="744.4" stroke="#111" stroke-width="1.53" />
<line x1="1346.2" y1="756.2" x2="1374.4" y2="756.2" stroke="#111" stroke-width="1.53" />
<line x1="1346.2" y1="767.5" x2="1374.4" y2="767.5" stroke="#111" stroke-width="1.53" />
<line x1="1272.6" y1="703.8" x2="1272.6" y2="838.8" stroke="#111" stroke-width="1.3" />
<rect x="1295.6" y="720.6" width="5.6" height="114" fill="#111" stroke="none"/>
<rect x="1341.2" y="720.6" width="5.2" height="114" fill="#111" stroke="none"/>
<rect x="1295.6" y="720.6" width="50.8" height="4.4" fill="#111" stroke="none"/>
<rect x="1295.6" y="830.2" width="50.8" height="4.6" fill="#111" stroke="none"/>
<line x1="1296" y1="723" x2="1346" y2="723" stroke="#999" stroke-width="0.944" />
<line x1="1301" y1="832.4" x2="1341" y2="832.4" stroke="#bbb" stroke-width="0.944" />
<line x1="1303.6" y1="725" x2="1303.6" y2="830" stroke="#111" stroke-width="1.18" />
<line x1="1321.2" y1="725" x2="1321.2" y2="830" stroke="#111" stroke-width="1.42" />
<line x1="1307" y1="744.4" x2="1341" y2="744.4" stroke="#111" stroke-width="1.53" />
<line x1="1301" y1="785" x2="1341" y2="785" stroke="#111" stroke-width="2.36" />
<line x1="1301" y1="788" x2="1341" y2="788" stroke="#111" stroke-width="1.18" />
<rect x="1302.4" y="662" width="4.8" height="124" fill="#111" stroke="none"/>
<line x1="1304.6" y1="664" x2="1304.6" y2="784" stroke="#aaa" stroke-width="0.944" />
<path d="M1300.6 702.4 L1304.8 698 L1309 702.4 Z" fill="#111" stroke="#111" stroke-width="0.5" />
<rect x="1274" y="711.4" width="21" height="7.4" fill="none" stroke="#111" stroke-width="1.42"/>
<line x1="1278" y1="713.4" x2="1294" y2="713.4" stroke="#111" stroke-width="1.65" />
<line x1="1278" y1="716.4" x2="1294" y2="716.4" stroke="#111" stroke-width="1.65" />
<rect x="1297" y="710" width="5" height="9" fill="#111" stroke="none"/>
<rect x="1307.4" y="710.4" width="3.6" height="8.6" fill="none" stroke="#111" stroke-width="1.18"/>
<rect x="1311" y="710.6" width="12.8" height="8.2" fill="#111" stroke="none"/>
<rect x="1323.8" y="710.4" width="17.2" height="8.4" fill="none" stroke="#111" stroke-width="1.18"/>
<rect x="1274" y="721" width="9" height="5.6" fill="none" stroke="#111" stroke-width="1.42"/>
<line x1="1283" y1="726" x2="1295.6" y2="726" stroke="#111" stroke-width="1.89" />
<circle cx="1321.9" cy="765" r="12.6" fill="none" stroke="#111" stroke-width="2.83"/>
<circle cx="1321.9" cy="765" r="10" fill="none" stroke="#111" stroke-width="1.42"/>
<circle cx="1321.9" cy="765" r="7.4" fill="none" stroke="#111" stroke-width="2.12"/>
<circle cx="1321.9" cy="765" r="13.4" fill="none" stroke="#111" stroke-width="1.8" stroke-dasharray="3.2 7.3"/>
<line x1="1306" y1="765" x2="1338" y2="765" stroke="#111" stroke-width="1.06" />
<line x1="1321.9" y1="748" x2="1321.9" y2="782" stroke="#111" stroke-width="1.65" />
<rect x="1301.2" y="788" width="40" height="42.2" fill="#fff" stroke="none"/>
<rect x="1301.2" y="788" width="40" height="42.2" fill="none" stroke="#111" stroke-width="1.89"/>
<circle cx="1320.6" cy="809.4" r="20.6" fill="none" stroke="#111" stroke-width="2.36"/>
<circle cx="1320.6" cy="809.4" r="18.2" fill="none" stroke="#111" stroke-width="1.42"/>
<circle cx="1320.6" cy="809.4" r="15.8" fill="none" stroke="#111" stroke-width="2.83"/>
<circle cx="1320.6" cy="809.4" r="13" fill="none" stroke="#111" stroke-width="1.18"/>
<circle cx="1320.6" cy="809.4" r="17" fill="none" stroke="#111" stroke-width="1.6" stroke-dasharray="2.4 3.2"/>
<path d="M1310.6 807.4 Q1310.6 801.4 1316.6 800.8 Q1320.6 797.4 1324.6 800.8 Q1331.2 801.4 1330.6 808.4 Q1332.6 813.4 1327 817.4 Q1323.6 821.4 1318.6 818.4 Q1311.6 818.4 1311.2 812.4 Z" fill="#fff" stroke="#111" stroke-width="2.2"/>
<circle cx="1320.6" cy="809.4" r="4.2" fill="none" stroke="#111" stroke-width="1.89"/>
<circle cx="1320.6" cy="809.4" r="2.2" fill="none" stroke="#111" stroke-width="1.18"/>
<line x1="1301.6" y1="809.4" x2="1339.6" y2="809.4" stroke="#111" stroke-width="1.06" />
<line x1="1320.6" y1="788.4" x2="1320.6" y2="830.4" stroke="#111" stroke-width="1.06" />
<path d="M1308.6 818.4 L1313.6 815.4 L1315.6 820.4 L1310.6 823.4 Z" fill="#111" stroke="#111" stroke-width="0.5" />
<rect x="1303" y="791" width="4" height="3" fill="#111" stroke="none"/>
<rect x="1335" y="791" width="4" height="3" fill="#111" stroke="none"/>
<rect x="1303" y="825" width="4" height="3" fill="#111" stroke="none"/>
<rect x="1335" y="825" width="4" height="3" fill="#111" stroke="none"/>
<rect x="1337" y="800" width="4" height="20" fill="#333" stroke="none"/>
<rect x="1338" y="803" width="2" height="3" fill="#fff" stroke="none"/>
<rect x="1338" y="810" width="2" height="3" fill="#fff" stroke="none"/>
<line x1="1274.6" y1="710" x2="1274.6" y2="836" stroke="#111" stroke-width="1.65" />
<path d="M1274 740 Q1280 742 1282 736 L1279 741.6 Q1277.4 743.6 1274 743.2" fill="none" stroke="#111" stroke-width="1.89" />
<rect x="1273.4" y="739.4" width="4" height="3" fill="#fff" stroke="none"/>
<rect x="1273.4" y="739.4" width="4" height="3" fill="none" stroke="#111" stroke-width="1.06"/>
<path d="M1275 765.4 H1286 Q1285 767 1283.6 766.4" fill="none" stroke="#111" stroke-width="2.12" />
<rect x="1273.4" y="764" width="4" height="3" fill="#fff" stroke="#111" stroke-width="1.06"/>
<circle cx="1284.4" cy="777.5" r="3.9" fill="none" stroke="#111" stroke-width="1.77"/>
<path d="M1274 788 Q1279 789 1281 794 M1274 794 Q1278 796 1279.6 801" fill="none" stroke="#111" stroke-width="2.12" />
<line x1="1275" y1="811.4" x2="1295" y2="811.4" stroke="#111" stroke-width="1.53" />
<line x1="1275" y1="815" x2="1295" y2="815" stroke="#111" stroke-width="1.53" />
<rect x="1291.4" y="801" width="3.6" height="25" fill="#111" stroke="none"/>
<rect x="1289.4" y="806" width="2" height="16" fill="#111" stroke="none"/>
<rect x="1273" y="827.5" width="9.6" height="8.3" fill="none" stroke="#111" stroke-width="1.53"/>
<rect x="1276" y="829" width="4" height="5.6" fill="#555" stroke="none"/>
<line x1="1243.8" y1="827.5" x2="1295" y2="827.5" stroke="#111" stroke-width="1.42" />
<rect x="1293" y="609.2" width="24.1" height="12.2" fill="none" stroke="#3a3a3a" stroke-width="1.42"/>
<rect x="1291" y="621.4" width="28.4" height="34.7" fill="none" stroke="#3a3a3a" stroke-width="1.42"/>
<line x1="1291" y1="631.7" x2="1319.4" y2="631.7" stroke="#3a3a3a" stroke-width="1.42" />
<line x1="1305.1" y1="603.4" x2="1305.1" y2="662" stroke="#3a3a3a" stroke-width="1.3" />
<circle cx="1305.1" cy="643.9" r="10.6" fill="#fff" stroke="#111" stroke-width="3.07"/>
<circle cx="1305.1" cy="643.9" r="6.6" fill="#333" stroke="#111" stroke-width="1.18"/>
<circle cx="1305.1" cy="643.9" r="8" fill="none" stroke="#111" stroke-width="1.4" stroke-dasharray="2 2.2"/>
<rect x="1303" y="639" width="1.4" height="3" fill="#ddd" stroke="none"/>
<rect x="1306" y="645" width="1.6" height="3" fill="#ddd" stroke="none"/>
<rect x="1302.6" y="650" width="5" height="2" fill="#eee" stroke="none"/>
<line x1="1289" y1="643.9" x2="1293.6" y2="643.9" stroke="#111" stroke-width="1.65" />
<line x1="1316.6" y1="643.9" x2="1322" y2="643.9" stroke="#111" stroke-width="1.65" />
<rect x="1295" y="656" width="20.5" height="8.4" rx="2.4" fill="#fff" stroke="#222" stroke-width="1.3"/>
<rect x="1300" y="655" width="10.4" height="9.4" fill="#111" stroke="none"/>
<rect x="1302.4" y="657.6" width="1.6" height="3.4" fill="#eee" stroke="none"/>
<rect x="1306" y="657.6" width="1.6" height="3.4" fill="#eee" stroke="none"/>
<rect x="1296.6" y="658" width="2" height="5" fill="#999" stroke="none"/>
<rect x="1311.6" y="658" width="2" height="5" fill="#999" stroke="none"/>
</svg>
</body></html>
